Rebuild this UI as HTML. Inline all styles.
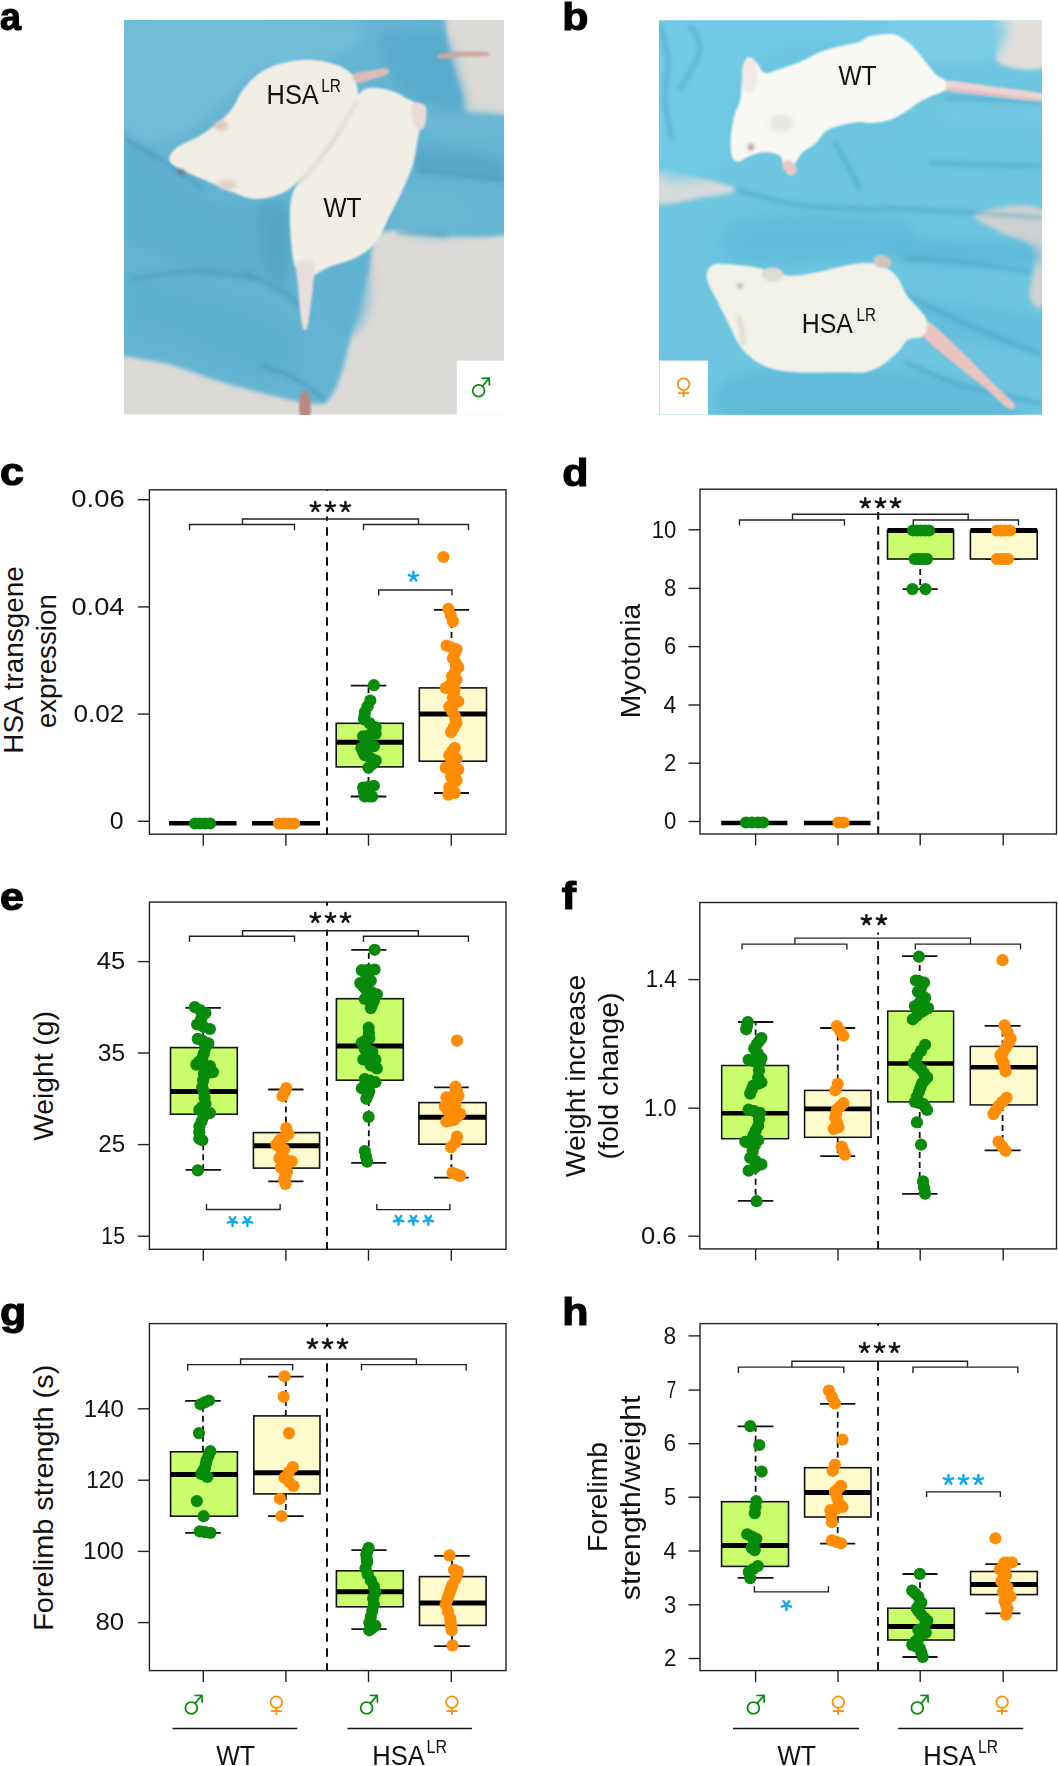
<!DOCTYPE html>
<html><head><meta charset="utf-8"><style>
html,body{margin:0;padding:0;background:#fff;}
body{width:1058px;height:1766px;overflow:hidden;}
svg{display:block;font-family:"Liberation Sans",sans-serif;}
</style></head><body>
<svg width="1058" height="1766" viewBox="0 0 1058 1766">
<defs>
<clipPath id="clipA"><rect x="124" y="20" width="380" height="394.6"/></clipPath>
<clipPath id="clipB"><rect x="659" y="20.5" width="383" height="394.2"/></clipPath>
<filter id="blur1" x="-10%" y="-10%" width="120%" height="120%"><feGaussianBlur stdDeviation="1.1"/></filter>
<filter id="blur2" x="-10%" y="-10%" width="120%" height="120%"><feGaussianBlur stdDeviation="2"/></filter>
<filter id="blur3" x="-10%" y="-10%" width="120%" height="120%"><feGaussianBlur stdDeviation="3"/></filter>
<filter id="blur4" x="-20%" y="-20%" width="140%" height="140%"><feGaussianBlur stdDeviation="6"/></filter>
</defs>
<g clip-path="url(#clipA)"><rect x="124" y="20" width="380" height="395" fill="#dcdad7"/><g filter="url(#blur2)"><path d="M88.1,-15.9 C146.2,-75.8 376.9,-21.9 436.5,-15.9 C496.1,-9.9 443.7,10.4 445.5,20.0 C447.3,29.6 446.4,35.0 447.3,41.6 C448.2,48.1 449.4,53.5 450.9,59.5 C452.4,65.5 454.5,71.5 456.3,77.5 C458.1,83.5 460.1,89.7 461.6,95.4 C463.1,101.1 461.6,108.5 465.2,111.6 C468.8,114.7 476.7,113.5 483.2,114.1 C489.7,114.7 494.5,114.7 504.0,115.2 C513.6,115.7 534.6,96.9 540.7,117.0 C546.8,137.0 546.8,215.8 540.7,235.5 C534.6,255.3 513.6,235.2 504.0,235.5 C494.5,235.8 492.7,237.3 483.2,237.3 C473.7,237.3 458.1,236.4 447.3,235.5 C436.5,234.6 426.9,232.8 418.5,231.9 C410.2,231.0 404.2,229.5 397.0,230.1 C389.8,230.7 379.6,232.2 375.4,235.5 C371.2,238.8 373.0,243.9 371.8,249.9 C370.6,255.9 370.0,263.1 368.3,271.4 C366.5,279.8 363.5,291.2 361.1,300.2 C358.7,309.2 356.3,316.3 353.9,325.3 C351.5,334.3 349.1,345.1 346.7,354.1 C344.3,363.0 342.2,372.0 339.5,379.2 C336.8,386.4 333.8,393.0 330.5,397.2 C327.2,401.3 324.9,403.2 319.8,404.0 C314.7,404.8 308.3,403.3 300.0,401.8 C291.7,400.3 283.5,398.5 269.8,395.0 C256.2,391.5 234.8,386.0 218.1,381.0 C201.5,376.0 185.7,369.0 170.0,364.8 C154.3,360.6 137.6,359.4 124.0,355.8 C110.4,352.3 94.1,405.2 88.1,343.3 C82.1,281.3 30.0,43.9 88.1,-15.9 Z" fill="#65b5d2"/></g><g filter="url(#blur4)"><path d="M124.0,20.0 C159.9,2.0 300.6,16.4 339.5,20.0 C378.4,23.6 359.9,35.0 357.5,41.6 C355.1,48.1 341.3,54.7 325.1,59.5 C309.0,64.3 279.1,61.9 260.5,70.3 C241.9,78.7 228.8,98.4 213.8,109.8 C198.8,121.2 185.7,135.5 170.7,138.5 C155.7,141.5 131.8,147.5 124.0,127.8 C116.2,108.0 88.1,38.0 124.0,20.0 Z" fill="#74c0da" opacity="0.85"/><path d="M124.0,138.5 C131.2,127.8 155.1,161.9 167.1,170.9 C179.1,179.8 185.1,186.4 195.8,192.4 C206.6,198.4 218.6,204.4 231.8,206.8 C244.9,209.2 265.3,202.0 274.9,206.8 C284.4,211.6 288.6,224.7 289.2,235.5 C289.8,246.3 286.2,264.3 278.5,271.4 C270.7,278.6 256.3,278.6 242.5,278.6 C228.8,278.6 210.8,276.2 195.8,271.4 C180.9,266.6 164.7,255.9 152.7,249.9 C140.8,243.9 128.8,254.1 124.0,235.5 C119.2,217.0 116.8,149.3 124.0,138.5 Z" fill="#58aac9" opacity="0.5"/><path d="M124.0,271.4 C133.0,263.1 159.9,275.0 177.9,278.6 C195.8,282.2 215.6,288.2 231.8,293.0 C247.9,297.8 262.9,300.2 274.9,307.4 C286.8,314.5 300.0,325.3 303.6,336.1 C307.2,346.9 303.6,364.8 296.4,372.0 C289.2,379.2 274.3,380.4 260.5,379.2 C246.7,378.0 229.4,370.8 213.8,364.8 C198.2,358.8 182.1,349.3 167.1,343.3 C152.1,337.3 131.2,340.9 124.0,328.9 C116.8,316.9 115.0,279.8 124.0,271.4 Z" fill="#5eb0cf" opacity="0.8"/><path d="M260.5,206.8 C264.1,196.0 283.8,199.6 289.2,206.8 C294.6,214.0 294.0,235.5 292.8,249.9 C291.6,264.3 286.2,289.4 282.0,293.0 C277.9,296.6 271.3,285.8 267.7,271.4 C264.1,257.1 256.9,217.6 260.5,206.8 Z" fill="#4a98b8" opacity="0.45"/><path d="M382.6,34.4 C391.0,28.4 427.5,27.8 440.1,34.4 C452.7,41.0 453.9,61.3 458.1,73.9 C462.2,86.5 467.0,102.6 465.2,109.8 C463.4,117.0 456.3,118.8 447.3,117.0 C438.3,115.2 420.9,106.8 411.4,99.0 C401.8,91.2 394.6,81.1 389.8,70.3 C385.0,59.5 374.2,40.4 382.6,34.4 Z" fill="#56a9ca" opacity="0.8"/><path d="M425.7,109.8 C438.8,108.0 491.0,112.2 504.0,117.0 C517.1,121.8 513.5,134.9 504.0,138.5 C494.6,142.1 460.3,140.3 447.3,138.5 C434.2,136.7 429.3,132.5 425.7,127.8 C422.1,123.0 412.7,111.6 425.7,109.8 Z" fill="#6dbad6" opacity="0.7"/><path d="M418.5,149.3 C429.3,146.9 468.9,154.1 483.2,156.5 C497.4,158.9 500.6,160.1 504.0,163.7 C507.5,167.3 509.9,176.3 504.0,178.0 C498.2,179.8 483.1,175.7 468.8,174.5 C454.6,173.3 426.9,175.1 418.5,170.9 C410.2,166.7 407.8,151.7 418.5,149.3 Z" fill="#4d9ec0" opacity="0.6"/><path d="M397.0,185.2 C407.8,179.2 452.1,186.4 465.2,192.4 C478.4,198.4 479.0,214.0 476.0,221.1 C473.0,228.3 459.8,234.3 447.3,235.5 C434.7,236.7 409.0,236.7 400.6,228.3 C392.2,220.0 386.2,191.2 397.0,185.2 Z" fill="#69b9d5" opacity="0.8"/><path d="M318.0,257.1 C324.0,243.9 352.7,243.9 361.1,249.9 C369.5,255.9 368.9,279.8 368.3,293.0 C367.7,306.2 364.7,322.9 357.5,328.9 C350.3,334.9 331.7,340.9 325.1,328.9 C318.6,316.9 312.0,270.2 318.0,257.1 Z" fill="#60b2d1" opacity="0.8"/></g><g filter="url(#blur2)"><path d="M124.0,138.5 C131.2,142.7 153.9,155.3 167.1,163.7 C180.3,172.1 197.0,184.6 203.0,188.8" stroke="#3d8fb3" stroke-width="3" fill="none" opacity="0.6"/><path d="M242.5,271.4 C249.7,275.0 274.3,285.2 285.6,293.0 C297.0,300.8 306.6,313.9 310.8,318.1" stroke="#3d8fb3" stroke-width="3" fill="none" opacity="0.6"/><path d="M131.2,278.6 C142.0,277.4 175.5,271.4 195.8,271.4 C216.2,271.4 243.7,277.4 253.3,278.6" stroke="#3d8fb3" stroke-width="3" fill="none" opacity="0.6"/><path d="M260.5,364.8 C266.5,367.2 285.6,373.2 296.4,379.2 C307.2,385.2 320.4,397.2 325.1,400.7" stroke="#3d8fb3" stroke-width="3" fill="none" opacity="0.6"/><path d="M418.5,170.9 C426.3,171.5 451.0,173.0 465.2,174.5 C479.5,176.0 497.6,178.9 504.0,179.8" stroke="#3d8fb3" stroke-width="3" fill="none" opacity="0.6"/><path d="M397.0,231.9 C405.4,232.5 438.9,234.9 447.3,235.5" stroke="#3d8fb3" stroke-width="3" fill="none" opacity="0.6"/></g><g filter="url(#blur1)"><path d="M169.2,157.9 C169.6,154.7 172.4,150.6 177.4,146.9 C182.4,143.2 192.5,140.0 199.3,135.9 C206.2,131.8 213.0,126.8 218.5,122.2 C224.0,117.6 228.1,114.0 232.2,108.5 C236.3,103.0 238.6,95.2 243.2,89.3 C247.8,83.4 253.2,77.2 259.6,72.9 C266.0,68.6 273.4,65.5 281.6,63.3 C289.8,61.1 299.9,59.5 309.0,59.7 C318.1,59.9 329.1,62.1 336.4,64.7 C343.7,67.3 349.2,70.6 352.9,75.6 C356.5,80.6 357.9,88.8 358.3,94.8 C358.8,100.8 358.3,105.3 355.6,111.3 C352.9,117.2 346.9,123.7 341.9,130.5 C336.9,137.3 331.8,144.6 325.4,152.4 C319.0,160.2 310.8,170.2 303.5,177.1 C296.2,183.9 289.8,189.8 281.6,193.5 C273.4,197.2 262.4,199.2 254.2,199.0 C246.0,198.8 239.5,194.8 232.2,192.1 C224.9,189.3 217.2,185.5 210.3,182.5 C203.5,179.5 197.0,177.0 191.1,174.3 C185.2,171.6 178.3,168.8 174.7,166.1 C171.0,163.4 168.8,161.1 169.2,157.9 Z" fill="#f0ede4"/><path d="M353.9,73.9 C356.3,71.8 366.5,71.2 371.8,70.3 C377.2,69.4 383.5,67.9 386.2,68.5 C388.9,69.1 390.4,72.1 388.0,73.9 C385.6,75.7 376.9,77.8 371.8,79.3 C366.8,80.8 360.5,83.8 357.5,82.9 C354.5,82.0 351.5,76.0 353.9,73.9 Z" fill="#dcbcb6"/><path d="M440.1,54.1 C443.7,52.9 453.9,51.9 461.6,51.6 C469.4,51.3 482.6,51.6 486.8,52.3 C491.0,53.0 491.0,55.2 486.8,55.9 C482.6,56.6 469.4,56.2 461.6,56.6 C453.9,57.1 443.7,59.2 440.1,58.8 C436.5,58.4 436.5,55.3 440.1,54.1 Z" fill="#cfa7a2"/><path d="M358.3,94.8 C361.2,91.1 363.8,88.7 369.3,88.0 C374.8,87.3 384.4,88.7 391.2,90.7 C398.0,92.8 404.9,97.3 410.4,100.3 C415.9,103.3 422.3,104.8 424.1,108.5 C425.9,112.2 422.5,116.7 421.4,122.2 C420.3,127.7 418.7,134.5 417.3,141.4 C415.9,148.3 415.7,155.2 413.2,163.4 C410.7,171.6 406.3,181.7 402.2,190.8 C398.1,199.9 392.6,210.0 388.5,218.2 C384.4,226.4 382.5,233.7 377.5,240.1 C372.5,246.5 366.5,252.0 358.3,256.6 C350.1,261.2 336.9,263.9 328.2,267.5 C319.5,271.1 311.7,278.5 306.2,278.5 C300.7,278.5 297.8,273.4 295.3,267.5 C292.8,261.6 292.1,251.6 291.2,242.9 C290.3,234.2 289.6,223.6 289.8,215.4 C290.0,207.2 290.2,199.9 292.5,193.5 C294.8,187.1 298.0,183.9 303.5,177.1 C309.0,170.2 319.0,160.2 325.4,152.4 C331.8,144.6 337.5,137.6 341.9,130.5 C346.3,123.4 349.3,116.0 352.0,110.0 C354.7,104.0 355.4,98.5 358.3,94.8 Z" fill="#f1eee6"/><path d="M297.0,262.0 C299.7,258.2 311.3,258.2 314.0,262.0 C316.7,265.8 313.7,276.7 313.0,285.0 C312.3,293.3 311.0,304.8 310.0,312.0 C309.0,319.2 308.2,325.3 307.0,328.0 C305.8,330.7 304.2,331.0 303.0,328.0 C301.8,325.0 300.8,317.2 300.0,310.0 C299.2,302.8 298.5,293.0 298.0,285.0 C297.5,277.0 294.3,265.8 297.0,262.0 Z" fill="#e8dedb"/><path d="M300.7,393.6 C302.2,390.0 307.4,390.0 309.0,393.6 C310.5,397.2 311.6,411.5 310.1,415.1 C308.6,418.7 301.6,418.7 300.0,415.1 C298.4,411.5 299.2,397.2 300.7,393.6 Z" fill="#b88a86"/><path d="M411.4,104.4 C413.2,101.1 423.6,102.3 425.7,106.2 C427.8,110.1 425.7,124.5 423.9,127.8 C422.1,131.1 417.0,129.9 414.9,126.0 C412.9,122.1 409.6,107.7 411.4,104.4 Z" fill="#ebd9d5"/></g><g filter="url(#blur2)"><ellipse cx="221" cy="126" rx="7" ry="5" fill="#d9c6bb"/><ellipse cx="227" cy="185" rx="10" ry="5" fill="#dac8bd" opacity="0.8"/><ellipse cx="181" cy="172" rx="4" ry="2.5" fill="#7a7068"/><path d="M300,183 Q330,150 358,100" stroke="#cfcdc2" stroke-width="3" fill="none" opacity="0.7"/></g></g>
<g clip-path="url(#clipB)"><rect x="659" y="20.5" width="383" height="394.5" fill="#6dc5df"/><g filter="url(#blur2)"><path d="M999.0,18.0 C1007.2,14.3 1037.3,10.0 1045.0,18.0 C1052.7,26.0 1052.5,58.3 1045.0,66.0 C1037.5,73.7 1008.2,68.3 1000.0,64.0 C991.8,59.7 996.2,47.7 996.0,40.0 C995.8,32.3 990.8,21.7 999.0,18.0 Z" fill="#e2dfdb"/><path d="M655.0,171.0 C662.5,166.8 686.5,174.8 700.0,178.0 C713.5,181.2 736.0,186.7 736.0,190.0 C736.0,193.3 713.5,195.8 700.0,198.0 C686.5,200.2 662.5,207.5 655.0,203.0 C647.5,198.5 647.5,175.2 655.0,171.0 Z" fill="#d6dadb"/><path d="M975.0,214.0 C982.5,210.7 1033.3,197.7 1045.0,212.0 C1056.7,226.3 1047.5,285.7 1045.0,300.0 C1042.5,314.3 1032.0,306.3 1030.0,298.0 C1028.0,289.7 1038.0,261.0 1033.0,250.0 C1028.0,239.0 1009.7,238.0 1000.0,232.0 C990.3,226.0 967.5,217.3 975.0,214.0 Z" fill="#cfd2d2"/></g><g filter="url(#blur4)"><path d="M655.0,18.0 C692.5,-7.0 839.2,11.0 880.0,18.0 C920.8,25.0 910.0,56.3 900.0,60.0 C890.0,63.7 843.3,40.0 820.0,40.0 C796.7,40.0 775.0,48.3 760.0,60.0 C745.0,71.7 735.8,92.5 730.0,110.0 C724.2,127.5 737.5,155.3 725.0,165.0 C712.5,174.7 666.7,192.5 655.0,168.0 C643.3,143.5 617.5,43.0 655.0,18.0 Z" fill="#72cae4" opacity="0.8"/><path d="M890.0,18.0 C905.5,13.0 979.7,12.7 998.0,18.0 C1016.3,23.3 1002.2,42.7 1000.0,50.0 C997.8,57.3 995.0,59.7 985.0,62.0 C975.0,64.3 953.3,66.3 940.0,64.0 C926.7,61.7 913.3,55.7 905.0,48.0 C896.7,40.3 874.5,23.0 890.0,18.0 Z" fill="#7ccde5" opacity="0.9"/><path d="M950.0,100.0 C965.8,95.8 1029.2,95.8 1045.0,100.0 C1060.8,104.2 1060.8,120.8 1045.0,125.0 C1029.2,129.2 965.8,129.2 950.0,125.0 C934.2,120.8 934.2,104.2 950.0,100.0 Z" fill="#74c8e2" opacity="0.7"/><path d="M900.0,130.0 C924.2,125.0 1020.8,125.0 1045.0,130.0 C1069.2,135.0 1069.2,155.0 1045.0,160.0 C1020.8,165.0 924.2,165.0 900.0,160.0 C875.8,155.0 875.8,135.0 900.0,130.0 Z" fill="#6cc4e0" opacity="0.7"/><path d="M900.0,240.0 C920.8,237.2 1008.0,240.8 1030.0,245.0 C1052.0,249.2 1052.8,262.2 1032.0,265.0 C1011.2,267.8 927.0,266.2 905.0,262.0 C883.0,257.8 879.2,242.8 900.0,240.0 Z" fill="#5ab6d6" opacity="0.7"/><path d="M910.0,300.0 C931.7,298.3 1022.5,311.7 1045.0,320.0 C1067.5,328.3 1066.7,348.3 1045.0,350.0 C1023.3,351.7 937.5,338.3 915.0,330.0 C892.5,321.7 888.3,301.7 910.0,300.0 Z" fill="#5eb8d8" opacity="0.6"/><path d="M740.0,375.0 C766.7,367.0 856.7,367.8 900.0,372.0 C943.3,376.2 983.3,392.0 1000.0,400.0 C1016.7,408.0 1043.3,416.7 1000.0,420.0 C956.7,423.3 783.3,427.5 740.0,420.0 C696.7,412.5 713.3,383.0 740.0,375.0 Z" fill="#58b4d4" opacity="0.6"/><path d="M740.0,220.0 C766.7,213.0 875.0,214.2 900.0,220.0 C925.0,225.8 916.7,248.0 890.0,255.0 C863.3,262.0 765.0,267.8 740.0,262.0 C715.0,256.2 713.3,227.0 740.0,220.0 Z" fill="#5ab8d8" opacity="0.6"/></g><g filter="url(#blur2)"><path d="M905.0,258.0 C914.2,258.7 939.0,259.7 960.0,262.0 C981.0,264.3 1019.2,270.3 1031.0,272.0" stroke="#3a94b8" stroke-width="3.2" fill="none" opacity="0.5"/><path d="M905.0,295.0 C917.5,300.8 957.2,320.0 980.0,330.0 C1002.8,340.0 1031.7,350.8 1042.0,355.0" stroke="#3a94b8" stroke-width="3.2" fill="none" opacity="0.5"/><path d="M904.0,362.0 C913.3,365.8 943.5,379.5 960.0,385.0 C976.5,390.5 989.3,391.8 1003.0,395.0 C1016.7,398.2 1035.5,402.5 1042.0,404.0" stroke="#3a94b8" stroke-width="3.2" fill="none" opacity="0.5"/><path d="M945.0,98.0 C954.2,98.3 983.8,99.3 1000.0,100.0 C1016.2,100.7 1035.0,101.7 1042.0,102.0" stroke="#3a94b8" stroke-width="3.2" fill="none" opacity="0.5"/><path d="M930.0,163.0 C940.0,163.3 971.3,164.5 990.0,165.0 C1008.7,165.5 1033.3,165.8 1042.0,166.0" stroke="#3a94b8" stroke-width="3.2" fill="none" opacity="0.5"/><path d="M880.0,208.0 C893.3,208.7 933.0,210.3 960.0,212.0 C987.0,213.7 1028.3,217.0 1042.0,218.0" stroke="#3a94b8" stroke-width="3.2" fill="none" opacity="0.5"/><path d="M660.0,25.0 C661.3,30.8 667.2,47.5 668.0,60.0 C668.8,72.5 664.3,86.7 665.0,100.0 C665.7,113.3 670.8,133.3 672.0,140.0" stroke="#3a94b8" stroke-width="3.2" fill="none" opacity="0.5"/><path d="M690.0,25.0 C691.7,29.2 701.7,39.2 700.0,50.0 C698.3,60.8 683.3,83.3 680.0,90.0" stroke="#3a94b8" stroke-width="3.2" fill="none" opacity="0.5"/><path d="M835.0,142.0 C837.5,146.7 845.8,162.0 850.0,170.0 C854.2,178.0 858.3,186.7 860.0,190.0" stroke="#3a94b8" stroke-width="3.2" fill="none" opacity="0.5"/><path d="M736.0,190.0 C746.7,192.5 776.0,201.7 800.0,205.0 C824.0,208.3 866.7,209.2 880.0,210.0" stroke="#3a94b8" stroke-width="3.2" fill="none" opacity="0.5"/></g><g filter="url(#blur1)"><path d="M945.0,80.5 C952.5,79.8 973.8,83.8 990.0,86.0 C1006.2,88.2 1033.3,91.2 1042.0,93.7 C1050.7,96.2 1050.7,100.9 1042.0,101.3 C1033.3,101.7 1006.2,97.9 990.0,96.0 C973.8,94.1 952.5,92.6 945.0,90.0 C937.5,87.4 937.5,81.2 945.0,80.5 Z" fill="#ecd2d2"/><path d="M946,89 Q995,95 1042,100.5" stroke="#e0b4b8" stroke-width="2" fill="none"/><path d="M746.0,59.7 C747.2,56.6 747.8,57.2 749.7,57.8 C751.6,58.4 754.8,61.0 757.3,63.5 C759.8,66.0 761.1,72.0 764.9,72.9 C768.7,73.8 774.0,71.0 780.0,69.1 C786.0,67.2 794.2,64.4 800.8,61.6 C807.4,58.8 813.4,54.6 819.7,52.1 C826.0,49.6 832.1,48.2 838.6,46.5 C845.1,44.8 853.7,43.7 859.0,42.0 C864.3,40.3 864.7,37.4 870.4,36.1 C876.1,34.8 887.0,33.4 893.0,34.2 C899.0,35.0 902.2,37.8 906.3,40.8 C910.4,43.8 914.1,48.3 917.6,52.1 C921.1,55.9 923.9,59.7 927.0,63.5 C930.1,67.3 933.5,72.0 936.5,74.8 C939.5,77.6 943.6,78.0 945.0,80.5 C946.4,83.0 947.0,87.5 945.0,90.0 C943.0,92.5 937.3,93.4 932.7,95.6 C928.1,97.8 922.3,100.4 917.6,103.2 C912.9,106.0 909.1,109.8 904.4,112.6 C899.7,115.4 895.0,118.5 889.3,120.2 C883.6,121.9 875.4,122.7 870.4,123.0 C865.4,123.3 864.3,121.5 859.0,122.0 C853.7,122.5 844.2,124.3 838.6,125.9 C833.0,127.5 829.2,128.7 825.4,131.5 C821.6,134.3 819.7,139.4 815.9,142.9 C812.1,146.4 806.2,148.8 802.7,152.3 C799.2,155.8 797.3,160.2 795.1,163.7 C792.9,167.2 791.3,172.5 789.4,173.1 C787.5,173.7 785.4,170.2 783.8,167.4 C782.2,164.6 783.1,158.6 780.0,156.1 C776.9,153.6 769.9,152.3 764.9,152.3 C759.9,152.3 754.1,154.5 749.7,156.1 C745.3,157.7 741.4,161.8 738.4,161.8 C735.4,161.8 733.1,160.2 731.8,156.1 C730.5,152.0 730.3,144.1 730.8,137.2 C731.3,130.3 733.0,120.8 734.6,114.5 C736.2,108.2 739.0,105.7 740.3,99.4 C741.6,93.1 741.2,83.3 742.2,76.7 C743.2,70.1 744.8,62.9 746.0,59.7 Z" fill="#f8f8f4"/><path d="M744.0,62.0 C745.3,58.8 748.0,56.8 750.0,57.0 C752.0,57.2 754.8,59.2 756.0,63.0 C757.2,66.8 757.7,75.2 757.0,80.0 C756.3,84.8 754.0,90.3 752.0,92.0 C750.0,93.7 746.7,92.7 745.0,90.0 C743.3,87.3 742.2,80.7 742.0,76.0 C741.8,71.3 742.7,65.2 744.0,62.0 Z" fill="#f2e8e6"/><path d="M927.0,320.9 C933.1,323.2 949.5,340.1 960.0,350.0 C970.5,359.9 981.0,371.0 990.0,380.0 C999.0,389.0 1011.0,399.3 1014.0,404.0 C1017.0,408.7 1012.8,410.7 1008.0,408.0 C1003.2,405.3 994.7,396.0 985.0,388.0 C975.3,380.0 960.3,368.7 950.0,360.0 C939.7,351.3 927.1,342.5 923.3,336.0 C919.5,329.5 920.9,318.6 927.0,320.9 Z" fill="#eac4be"/><path d="M707.2,271.7 C708.5,268.6 710.5,265.2 715.7,264.1 C720.9,263.0 730.5,264.3 738.4,265.1 C746.3,265.9 754.5,267.2 763.0,268.9 C771.5,270.6 779.9,275.0 789.4,275.5 C798.9,276.0 811.5,273.1 819.7,271.7 C827.9,270.3 831.7,268.4 838.6,267.0 C845.5,265.6 854.7,263.7 860.9,263.2 C867.1,262.7 871.3,263.0 876.0,264.1 C880.7,265.2 885.5,267.3 889.3,269.8 C893.1,272.3 895.9,275.2 898.7,279.3 C901.5,283.4 903.1,289.7 906.3,294.4 C909.4,299.1 914.1,303.2 917.6,307.6 C921.1,312.0 926.0,316.2 927.0,320.9 C928.0,325.6 926.4,332.9 923.3,336.0 C920.2,339.1 912.3,337.3 908.2,339.8 C904.1,342.3 902.8,347.0 898.7,351.1 C894.6,355.2 889.0,360.8 883.6,364.3 C878.2,367.8 873.5,370.5 866.6,371.9 C859.7,373.3 854.5,372.5 842.0,372.5 C829.5,372.5 804.1,373.1 791.3,372.0 C778.4,370.9 772.1,369.1 764.9,366.2 C757.6,363.3 752.2,358.7 747.8,354.9 C743.4,351.1 741.2,347.9 738.4,343.5 C735.6,339.1 733.6,334.1 730.8,328.4 C728.0,322.7 724.2,315.2 721.4,309.5 C718.6,303.8 716.0,298.8 713.8,294.4 C711.6,290.0 709.2,286.8 708.1,283.0 C707.0,279.2 705.9,274.8 707.2,271.7 Z" fill="#f1f1e9"/><ellipse cx="772.4" cy="274.5" rx="11" ry="7" fill="#dedcd2"/><path d="M874.0,258.0 C875.3,256.2 881.0,254.2 884.0,255.0 C887.0,255.8 891.7,260.8 892.0,263.0 C892.3,265.2 888.7,267.5 886.0,268.0 C883.3,268.5 878.0,267.7 876.0,266.0 C874.0,264.3 872.7,259.8 874.0,258.0 Z" fill="#d4c4be"/><path d="M782.0,165.0 C782.0,162.3 787.5,159.2 790.0,160.0 C792.5,160.8 797.0,167.3 797.0,170.0 C797.0,172.7 792.5,176.8 790.0,176.0 C787.5,175.2 782.0,167.7 782.0,165.0 Z" fill="#e8c8c4"/></g><g filter="url(#blur2)"><circle cx="751" cy="147" r="2.6" fill="#8a5a5e"/><ellipse cx="781" cy="123" rx="12" ry="9" fill="#e6e6e2"/><circle cx="740" cy="286" r="2" fill="#6a6a6a"/><path d="M738,315 Q745,335 742,345" stroke="#d0ccc4" stroke-width="3" fill="none"/></g></g>
<rect x="456.8" y="360.6" width="47.2" height="54" fill="#fff"/>
<g stroke="#088a0a" stroke-width="1.75" fill="none"><circle cx="478.6" cy="390.8" r="5.9"/><path d="M482.4,386.3 L489.2,378.2 M481.6,378.4 L489.2,378.2 L489.5,385.6"/></g>
<rect x="659.5" y="360.6" width="48.5" height="54" fill="#fff"/>
<g stroke="#ff8c05" stroke-width="1.75" fill="none"><circle cx="683.6" cy="384.2" r="5.8"/><path d="M683.6,390.0 V397.1 M678.0,393.2 H689.2"/></g>
<text x="266.6" y="103.8" font-size="27.5" text-anchor="start" fill="#111" font-weight="normal" textLength="52.2" lengthAdjust="spacingAndGlyphs" >HSA</text>
<text x="321.3" y="92.1" font-size="17.5" text-anchor="start" fill="#111" font-weight="normal" textLength="19.6" lengthAdjust="spacingAndGlyphs" >LR</text>
<text x="323.5" y="216.8" font-size="27.5" text-anchor="start" fill="#111" font-weight="normal" textLength="38.1" lengthAdjust="spacingAndGlyphs" >WT</text>
<text x="838.4" y="84.6" font-size="27.5" text-anchor="start" fill="#111" font-weight="normal" textLength="38.2" lengthAdjust="spacingAndGlyphs" >WT</text>
<text x="801.8" y="333.1" font-size="27.5" text-anchor="start" fill="#111" font-weight="normal" textLength="51.1" lengthAdjust="spacingAndGlyphs" >HSA</text>
<text x="856.6" y="320.6" font-size="17.5" text-anchor="start" fill="#111" font-weight="normal" textLength="19.4" lengthAdjust="spacingAndGlyphs" >LR</text>
<rect x="149.4" y="489.8" width="356.6" height="344.40000000000003" fill="none" stroke="#222" stroke-width="1.4"/>
<line x1="137.9" y1="821.3" x2="149.4" y2="821.3" stroke="#222" stroke-width="1.4" />
<text x="123.6" y="829.0" font-size="23.5" text-anchor="end" fill="#111" textLength="13.8" lengthAdjust="spacingAndGlyphs">0</text>
<line x1="137.9" y1="714.1" x2="149.4" y2="714.1" stroke="#222" stroke-width="1.4" />
<text x="124.4" y="721.8" font-size="23.5" text-anchor="end" fill="#111" textLength="50.9" lengthAdjust="spacingAndGlyphs">0.02</text>
<line x1="137.9" y1="606.9" x2="149.4" y2="606.9" stroke="#222" stroke-width="1.4" />
<text x="124.4" y="614.6" font-size="23.5" text-anchor="end" fill="#111" textLength="52.9" lengthAdjust="spacingAndGlyphs">0.04</text>
<line x1="137.9" y1="499.7" x2="149.4" y2="499.7" stroke="#222" stroke-width="1.4" />
<text x="124.7" y="507.4" font-size="23.5" text-anchor="end" fill="#111" textLength="53.4" lengthAdjust="spacingAndGlyphs">0.06</text>
<line x1="203.3" y1="834.2" x2="203.3" y2="845.7" stroke="#222" stroke-width="1.4" />
<line x1="285.9" y1="834.2" x2="285.9" y2="845.7" stroke="#222" stroke-width="1.4" />
<line x1="368.5" y1="834.2" x2="368.5" y2="845.7" stroke="#222" stroke-width="1.4" />
<line x1="451.3" y1="834.2" x2="451.3" y2="845.7" stroke="#222" stroke-width="1.4" />
<line x1="327.0" y1="489.8" x2="327.0" y2="834.2" stroke="#111" stroke-width="2.0" stroke-dasharray="8.6 6.4" stroke-dashoffset="7.65"/>
<path d="M189.5,530.3 V524.5 H294.5 V530.3" fill="none" stroke="#222" stroke-width="1.4"/>
<path d="M363.5,530.3 V524.5 H468.5 V530.3" fill="none" stroke="#222" stroke-width="1.4"/>
<path d="M242.5,524.5 V519.0 H418.5 V524.5" fill="none" stroke="#222" stroke-width="1.4"/>
<rect x="300" y="493" width="60" height="23.5" fill="#fff"/>
<path d="M315.30,506.90 L315.30,502.00 M315.30,506.90 L319.96,505.39 M315.30,506.90 L318.18,510.86 M315.30,506.90 L312.42,510.86 M315.30,506.90 L310.64,505.39 " stroke="#111" stroke-width="2.4" stroke-linecap="round" fill="none"/>
<path d="M330.30,506.90 L330.30,502.00 M330.30,506.90 L334.96,505.39 M330.30,506.90 L333.18,510.86 M330.30,506.90 L327.42,510.86 M330.30,506.90 L325.64,505.39 " stroke="#111" stroke-width="2.4" stroke-linecap="round" fill="none"/>
<path d="M345.40,506.90 L345.40,502.00 M345.40,506.90 L350.06,505.39 M345.40,506.90 L348.28,510.86 M345.40,506.90 L342.52,510.86 M345.40,506.90 L340.74,505.39 " stroke="#111" stroke-width="2.4" stroke-linecap="round" fill="none"/>
<line x1="169.0" y1="823.3" x2="236.5" y2="823.3" stroke="#000" stroke-width="4.6" />
<line x1="252.0" y1="823.3" x2="320.0" y2="823.3" stroke="#000" stroke-width="4.6" />
<line x1="368.5" y1="723.3" x2="368.5" y2="685.7" stroke="#111" stroke-width="1.8" stroke-dasharray="6 4"/>
<line x1="368.5" y1="766.9" x2="368.5" y2="796.5" stroke="#111" stroke-width="1.8" stroke-dasharray="6 4"/>
<line x1="350.7" y1="685.7" x2="386.3" y2="685.7" stroke="#111" stroke-width="1.8" />
<line x1="350.7" y1="796.5" x2="386.3" y2="796.5" stroke="#111" stroke-width="1.8" />
<rect x="336.2" y="723.3" width="67.0" height="43.6" fill="#cafd6c" stroke="#111" stroke-width="1.6"/>
<line x1="336.2" y1="742.3" x2="403.2" y2="742.3" stroke="#000" stroke-width="5.0" />
<line x1="451.5" y1="687.9" x2="451.5" y2="609.8" stroke="#111" stroke-width="1.8" stroke-dasharray="6 4"/>
<line x1="451.5" y1="761.2" x2="451.5" y2="793.0" stroke="#111" stroke-width="1.8" stroke-dasharray="6 4"/>
<line x1="434.0" y1="609.8" x2="469.0" y2="609.8" stroke="#111" stroke-width="1.8" />
<line x1="434.0" y1="793.0" x2="469.0" y2="793.0" stroke="#111" stroke-width="1.8" />
<rect x="419.3" y="687.9" width="67.2" height="73.3" fill="#fffacd" stroke="#111" stroke-width="1.6"/>
<line x1="419.3" y1="713.9" x2="486.5" y2="713.9" stroke="#000" stroke-width="5.0" />
<path d="M378.7,595.6 V590.0 H452.0 V595.6" fill="none" stroke="#222" stroke-width="1.4"/>
<path d="M413.40,576.60 L413.40,571.70 M413.40,576.60 L418.06,575.09 M413.40,576.60 L416.28,580.56 M413.40,576.60 L410.52,580.56 M413.40,576.60 L408.74,575.09 " stroke="#0da9ea" stroke-width="2.4" stroke-linecap="round" fill="none"/>
<rect x="700" y="489.2" width="356.5" height="344.8" fill="none" stroke="#222" stroke-width="1.4"/>
<line x1="688.5" y1="821.5" x2="700.0" y2="821.5" stroke="#222" stroke-width="1.4" />
<text x="676.2" y="829.2" font-size="23.5" text-anchor="end" fill="#111" textLength="12.3" lengthAdjust="spacingAndGlyphs">0</text>
<line x1="688.5" y1="763.2" x2="700.0" y2="763.2" stroke="#222" stroke-width="1.4" />
<text x="676.2" y="770.9" font-size="23.5" text-anchor="end" fill="#111" textLength="12.3" lengthAdjust="spacingAndGlyphs">2</text>
<line x1="688.5" y1="705.0" x2="700.0" y2="705.0" stroke="#222" stroke-width="1.4" />
<text x="676.2" y="712.7" font-size="23.5" text-anchor="end" fill="#111" textLength="12.8" lengthAdjust="spacingAndGlyphs">4</text>
<line x1="688.5" y1="646.6" x2="700.0" y2="646.6" stroke="#222" stroke-width="1.4" />
<text x="676.2" y="654.3" font-size="23.5" text-anchor="end" fill="#111" textLength="12.3" lengthAdjust="spacingAndGlyphs">6</text>
<line x1="688.5" y1="588.4" x2="700.0" y2="588.4" stroke="#222" stroke-width="1.4" />
<text x="676.2" y="596.1" font-size="23.5" text-anchor="end" fill="#111" textLength="12.3" lengthAdjust="spacingAndGlyphs">8</text>
<line x1="688.5" y1="529.8" x2="700.0" y2="529.8" stroke="#222" stroke-width="1.4" />
<text x="676.3" y="537.5" font-size="23.5" text-anchor="end" fill="#111" textLength="24.5" lengthAdjust="spacingAndGlyphs">10</text>
<line x1="755.6" y1="834.0" x2="755.6" y2="845.5" stroke="#222" stroke-width="1.4" />
<line x1="838.0" y1="834.0" x2="838.0" y2="845.5" stroke="#222" stroke-width="1.4" />
<line x1="920.2" y1="834.0" x2="920.2" y2="845.5" stroke="#222" stroke-width="1.4" />
<line x1="1003.2" y1="834.0" x2="1003.2" y2="845.5" stroke="#222" stroke-width="1.4" />
<line x1="878.2" y1="489.2" x2="878.2" y2="834.0" stroke="#111" stroke-width="2.0" stroke-dasharray="8.6 6.4" stroke-dashoffset="7.95"/>
<path d="M739.5,525.6 V520.0 H844.4 V525.6" fill="none" stroke="#222" stroke-width="1.4"/>
<path d="M913.3,525.6 V520.0 H1018.5 V525.6" fill="none" stroke="#222" stroke-width="1.4"/>
<path d="M792.5,520.0 V514.2 H968.2 V520.0" fill="none" stroke="#222" stroke-width="1.4"/>
<rect x="852" y="492" width="58" height="20" fill="#fff"/>
<path d="M865.30,503.05 L865.30,498.15 M865.30,503.05 L869.96,501.54 M865.30,503.05 L868.18,507.01 M865.30,503.05 L862.42,507.01 M865.30,503.05 L860.64,501.54 " stroke="#111" stroke-width="2.4" stroke-linecap="round" fill="none"/>
<path d="M880.50,503.05 L880.50,498.15 M880.50,503.05 L885.16,501.54 M880.50,503.05 L883.38,507.01 M880.50,503.05 L877.62,507.01 M880.50,503.05 L875.84,501.54 " stroke="#111" stroke-width="2.4" stroke-linecap="round" fill="none"/>
<path d="M895.50,503.05 L895.50,498.15 M895.50,503.05 L900.16,501.54 M895.50,503.05 L898.38,507.01 M895.50,503.05 L892.62,507.01 M895.50,503.05 L890.84,501.54 " stroke="#111" stroke-width="2.4" stroke-linecap="round" fill="none"/>
<line x1="721.2" y1="823.0" x2="787.4" y2="823.0" stroke="#000" stroke-width="4.6" />
<line x1="804.0" y1="823.0" x2="870.5" y2="823.0" stroke="#000" stroke-width="4.6" />
<line x1="920.2" y1="530.5" x2="920.2" y2="530.5" stroke="#111" stroke-width="1.8" stroke-dasharray="6 4"/>
<line x1="920.2" y1="559.0" x2="920.2" y2="589.1" stroke="#111" stroke-width="1.8" stroke-dasharray="6 4"/>
<line x1="902.7" y1="530.5" x2="937.7" y2="530.5" stroke="#111" stroke-width="1.8" />
<line x1="902.7" y1="589.1" x2="937.7" y2="589.1" stroke="#111" stroke-width="1.8" />
<rect x="887.5" y="530.5" width="66.1" height="28.5" fill="#cafd6c" stroke="#111" stroke-width="1.6"/>
<line x1="887.5" y1="530.5" x2="953.6" y2="530.5" stroke="#000" stroke-width="5.0" />
<line x1="1003.2" y1="530.5" x2="1003.2" y2="530.5" stroke="#111" stroke-width="1.8" stroke-dasharray="6 4"/>
<line x1="1003.2" y1="559.0" x2="1003.2" y2="559.0" stroke="#111" stroke-width="1.8" stroke-dasharray="6 4"/>
<line x1="985.7" y1="530.5" x2="1020.7" y2="530.5" stroke="#111" stroke-width="1.8" />
<line x1="985.7" y1="559.0" x2="1020.7" y2="559.0" stroke="#111" stroke-width="1.8" />
<rect x="970.4" y="530.5" width="66.8" height="28.5" fill="#fffacd" stroke="#111" stroke-width="1.6"/>
<line x1="970.4" y1="530.5" x2="1037.2" y2="530.5" stroke="#000" stroke-width="5.0" />
<rect x="149.4" y="902.1" width="356.6" height="347.19999999999993" fill="none" stroke="#222" stroke-width="1.4"/>
<line x1="137.9" y1="1236.2" x2="149.4" y2="1236.2" stroke="#222" stroke-width="1.4" />
<text x="125.0" y="1243.9" font-size="23.5" text-anchor="end" fill="#111" textLength="23.7" lengthAdjust="spacingAndGlyphs">15</text>
<line x1="137.9" y1="1144.6" x2="149.4" y2="1144.6" stroke="#222" stroke-width="1.4" />
<text x="125.1" y="1152.3" font-size="23.5" text-anchor="end" fill="#111" textLength="26.9" lengthAdjust="spacingAndGlyphs">25</text>
<line x1="137.9" y1="1053.0" x2="149.4" y2="1053.0" stroke="#222" stroke-width="1.4" />
<text x="125.1" y="1060.7" font-size="23.5" text-anchor="end" fill="#111" textLength="27.4" lengthAdjust="spacingAndGlyphs">35</text>
<line x1="137.9" y1="961.6" x2="149.4" y2="961.6" stroke="#222" stroke-width="1.4" />
<text x="125.1" y="969.3" font-size="23.5" text-anchor="end" fill="#111" textLength="28.3" lengthAdjust="spacingAndGlyphs">45</text>
<line x1="203.3" y1="1249.3" x2="203.3" y2="1260.8" stroke="#222" stroke-width="1.4" />
<line x1="285.9" y1="1249.3" x2="285.9" y2="1260.8" stroke="#222" stroke-width="1.4" />
<line x1="368.5" y1="1249.3" x2="368.5" y2="1260.8" stroke="#222" stroke-width="1.4" />
<line x1="451.3" y1="1249.3" x2="451.3" y2="1260.8" stroke="#222" stroke-width="1.4" />
<line x1="327.0" y1="902.1" x2="327.0" y2="1249.3" stroke="#111" stroke-width="2.0" stroke-dasharray="8.6 6.4" stroke-dashoffset="5.00"/>
<path d="M189.5,942.1 V936.3 H294.5 V942.1" fill="none" stroke="#222" stroke-width="1.4"/>
<path d="M363.5,942.1 V936.3 H468.4 V942.1" fill="none" stroke="#222" stroke-width="1.4"/>
<path d="M242.5,936.3 V930.7 H418.3 V936.3" fill="none" stroke="#222" stroke-width="1.4"/>
<rect x="300" y="906" width="60" height="23.5" fill="#fff"/>
<path d="M315.30,917.85 L315.30,912.95 M315.30,917.85 L319.96,916.34 M315.30,917.85 L318.18,921.81 M315.30,917.85 L312.42,921.81 M315.30,917.85 L310.64,916.34 " stroke="#111" stroke-width="2.4" stroke-linecap="round" fill="none"/>
<path d="M330.50,917.85 L330.50,912.95 M330.50,917.85 L335.16,916.34 M330.50,917.85 L333.38,921.81 M330.50,917.85 L327.62,921.81 M330.50,917.85 L325.84,916.34 " stroke="#111" stroke-width="2.4" stroke-linecap="round" fill="none"/>
<path d="M345.50,917.85 L345.50,912.95 M345.50,917.85 L350.16,916.34 M345.50,917.85 L348.38,921.81 M345.50,917.85 L342.62,921.81 M345.50,917.85 L340.84,916.34 " stroke="#111" stroke-width="2.4" stroke-linecap="round" fill="none"/>
<line x1="203.2" y1="1047.6" x2="203.2" y2="1007.9" stroke="#111" stroke-width="1.8" stroke-dasharray="6 4"/>
<line x1="203.2" y1="1114.2" x2="203.2" y2="1169.8" stroke="#111" stroke-width="1.8" stroke-dasharray="6 4"/>
<line x1="185.5" y1="1007.9" x2="220.9" y2="1007.9" stroke="#111" stroke-width="1.8" />
<line x1="185.5" y1="1169.8" x2="220.9" y2="1169.8" stroke="#111" stroke-width="1.8" />
<rect x="170.5" y="1047.6" width="66.8" height="66.6" fill="#cafd6c" stroke="#111" stroke-width="1.6"/>
<line x1="170.5" y1="1091.4" x2="237.3" y2="1091.4" stroke="#000" stroke-width="5.0" />
<line x1="285.9" y1="1132.6" x2="285.9" y2="1089.5" stroke="#111" stroke-width="1.8" stroke-dasharray="6 4"/>
<line x1="285.9" y1="1168.1" x2="285.9" y2="1181.4" stroke="#111" stroke-width="1.8" stroke-dasharray="6 4"/>
<line x1="268.2" y1="1089.5" x2="303.5" y2="1089.5" stroke="#111" stroke-width="1.8" />
<line x1="268.2" y1="1181.4" x2="303.5" y2="1181.4" stroke="#111" stroke-width="1.8" />
<rect x="253.4" y="1132.6" width="66.2" height="35.5" fill="#fffacd" stroke="#111" stroke-width="1.6"/>
<line x1="253.4" y1="1145.7" x2="319.6" y2="1145.7" stroke="#000" stroke-width="5.0" />
<line x1="368.8" y1="998.7" x2="368.8" y2="949.8" stroke="#111" stroke-width="1.8" stroke-dasharray="6 4"/>
<line x1="368.8" y1="1080.2" x2="368.8" y2="1162.8" stroke="#111" stroke-width="1.8" stroke-dasharray="6 4"/>
<line x1="351.2" y1="949.8" x2="386.4" y2="949.8" stroke="#111" stroke-width="1.8" />
<line x1="351.2" y1="1162.8" x2="386.4" y2="1162.8" stroke="#111" stroke-width="1.8" />
<rect x="336.4" y="998.7" width="66.9" height="81.5" fill="#cafd6c" stroke="#111" stroke-width="1.6"/>
<line x1="336.4" y1="1045.9" x2="403.3" y2="1045.9" stroke="#000" stroke-width="5.0" />
<line x1="451.4" y1="1102.6" x2="451.4" y2="1087.4" stroke="#111" stroke-width="1.8" stroke-dasharray="6 4"/>
<line x1="451.4" y1="1144.2" x2="451.4" y2="1177.7" stroke="#111" stroke-width="1.8" stroke-dasharray="6 4"/>
<line x1="434.0" y1="1087.4" x2="468.8" y2="1087.4" stroke="#111" stroke-width="1.8" />
<line x1="434.0" y1="1177.7" x2="468.8" y2="1177.7" stroke="#111" stroke-width="1.8" />
<rect x="418.9" y="1102.6" width="67.2" height="41.6" fill="#fffacd" stroke="#111" stroke-width="1.6"/>
<line x1="418.9" y1="1117.2" x2="486.1" y2="1117.2" stroke="#000" stroke-width="5.0" />
<path d="M206.5,1204.0 V1209.5 H280.1 V1204.0" fill="none" stroke="#222" stroke-width="1.4"/>
<path d="M232.50,1221.10 L232.50,1226.00 M232.50,1221.10 L227.84,1222.61 M232.50,1221.10 L229.62,1217.14 M232.50,1221.10 L235.38,1217.14 M232.50,1221.10 L237.16,1222.61 " stroke="#0da9ea" stroke-width="2.4" stroke-linecap="round" fill="none"/>
<path d="M247.40,1221.10 L247.40,1226.00 M247.40,1221.10 L242.74,1222.61 M247.40,1221.10 L244.52,1217.14 M247.40,1221.10 L250.28,1217.14 M247.40,1221.10 L252.06,1222.61 " stroke="#0da9ea" stroke-width="2.4" stroke-linecap="round" fill="none"/>
<path d="M376.8,1204.1 V1209.6 H449.9 V1204.1" fill="none" stroke="#222" stroke-width="1.4"/>
<path d="M398.50,1219.85 L398.50,1224.75 M398.50,1219.85 L393.84,1221.36 M398.50,1219.85 L395.62,1215.89 M398.50,1219.85 L401.38,1215.89 M398.50,1219.85 L403.16,1221.36 " stroke="#0da9ea" stroke-width="2.4" stroke-linecap="round" fill="none"/>
<path d="M413.40,1219.85 L413.40,1224.75 M413.40,1219.85 L408.74,1221.36 M413.40,1219.85 L410.52,1215.89 M413.40,1219.85 L416.28,1215.89 M413.40,1219.85 L418.06,1221.36 " stroke="#0da9ea" stroke-width="2.4" stroke-linecap="round" fill="none"/>
<path d="M428.30,1219.85 L428.30,1224.75 M428.30,1219.85 L423.64,1221.36 M428.30,1219.85 L425.42,1215.89 M428.30,1219.85 L431.18,1215.89 M428.30,1219.85 L432.96,1221.36 " stroke="#0da9ea" stroke-width="2.4" stroke-linecap="round" fill="none"/>
<rect x="699.8" y="902.5" width="356.70000000000005" height="346.4000000000001" fill="none" stroke="#222" stroke-width="1.4"/>
<line x1="688.3" y1="1236.2" x2="699.8" y2="1236.2" stroke="#222" stroke-width="1.4" />
<text x="676.5" y="1243.9" font-size="23.5" text-anchor="end" fill="#111" textLength="35.5" lengthAdjust="spacingAndGlyphs">0.6</text>
<line x1="688.3" y1="1108.2" x2="699.8" y2="1108.2" stroke="#222" stroke-width="1.4" />
<text x="676.5" y="1115.9" font-size="23.5" text-anchor="end" fill="#111" textLength="32.5" lengthAdjust="spacingAndGlyphs">1.0</text>
<line x1="688.3" y1="979.6" x2="699.8" y2="979.6" stroke="#222" stroke-width="1.4" />
<text x="676.5" y="987.3" font-size="23.5" text-anchor="end" fill="#111" textLength="30.8" lengthAdjust="spacingAndGlyphs">1.4</text>
<line x1="755.6" y1="1248.9" x2="755.6" y2="1260.4" stroke="#222" stroke-width="1.4" />
<line x1="838.0" y1="1248.9" x2="838.0" y2="1260.4" stroke="#222" stroke-width="1.4" />
<line x1="920.2" y1="1248.9" x2="920.2" y2="1260.4" stroke="#222" stroke-width="1.4" />
<line x1="1003.2" y1="1248.9" x2="1003.2" y2="1260.4" stroke="#222" stroke-width="1.4" />
<line x1="878.1" y1="932.5" x2="878.1" y2="1248.9" stroke="#111" stroke-width="1.9" stroke-dasharray="8.6 6.4" stroke-dashoffset="6.50"/>
<path d="M742.0,949.6 V944.2 H846.9 V949.6" fill="none" stroke="#222" stroke-width="1.3"/>
<path d="M915.3,949.6 V944.2 H1020.5 V949.6" fill="none" stroke="#222" stroke-width="1.3"/>
<path d="M794.9,944.2 V938.2 H970.5 V944.2" fill="none" stroke="#222" stroke-width="1.3"/>
<path d="M866.40,920.00 L866.40,915.10 M866.40,920.00 L871.06,918.49 M866.40,920.00 L869.28,923.96 M866.40,920.00 L863.52,923.96 M866.40,920.00 L861.74,918.49 " stroke="#111" stroke-width="2.4" stroke-linecap="round" fill="none"/>
<path d="M881.50,920.00 L881.50,915.10 M881.50,920.00 L886.16,918.49 M881.50,920.00 L884.38,923.96 M881.50,920.00 L878.62,923.96 M881.50,920.00 L876.84,918.49 " stroke="#111" stroke-width="2.4" stroke-linecap="round" fill="none"/>
<line x1="755.6" y1="1065.5" x2="755.6" y2="1022.0" stroke="#111" stroke-width="1.8" stroke-dasharray="6 4"/>
<line x1="755.6" y1="1138.7" x2="755.6" y2="1200.8" stroke="#111" stroke-width="1.8" stroke-dasharray="6 4"/>
<line x1="737.9" y1="1022.0" x2="773.3" y2="1022.0" stroke="#111" stroke-width="1.8" />
<line x1="737.9" y1="1200.8" x2="773.3" y2="1200.8" stroke="#111" stroke-width="1.8" />
<rect x="721.7" y="1065.5" width="66.8" height="73.2" fill="#cafd6c" stroke="#111" stroke-width="1.5"/>
<line x1="721.7" y1="1113.2" x2="788.5" y2="1113.2" stroke="#000" stroke-width="4.6" />
<line x1="837.7" y1="1090.4" x2="837.7" y2="1028.0" stroke="#111" stroke-width="1.8" stroke-dasharray="6 4"/>
<line x1="837.7" y1="1137.3" x2="837.7" y2="1156.2" stroke="#111" stroke-width="1.8" stroke-dasharray="6 4"/>
<line x1="820.2" y1="1028.0" x2="855.2" y2="1028.0" stroke="#111" stroke-width="1.8" />
<line x1="820.2" y1="1156.2" x2="855.2" y2="1156.2" stroke="#111" stroke-width="1.8" />
<rect x="804.6" y="1090.4" width="66.4" height="46.9" fill="#fffacd" stroke="#111" stroke-width="1.5"/>
<line x1="804.6" y1="1108.9" x2="871.0" y2="1108.9" stroke="#000" stroke-width="4.6" />
<line x1="919.7" y1="1011.1" x2="919.7" y2="956.1" stroke="#111" stroke-width="1.8" stroke-dasharray="6 4"/>
<line x1="919.7" y1="1101.9" x2="919.7" y2="1193.8" stroke="#111" stroke-width="1.8" stroke-dasharray="6 4"/>
<line x1="902.1" y1="956.1" x2="937.4" y2="956.1" stroke="#111" stroke-width="1.8" />
<line x1="902.1" y1="1193.8" x2="937.4" y2="1193.8" stroke="#111" stroke-width="1.8" />
<rect x="887.7" y="1011.1" width="65.9" height="90.8" fill="#cafd6c" stroke="#111" stroke-width="1.5"/>
<line x1="887.7" y1="1063.5" x2="953.6" y2="1063.5" stroke="#000" stroke-width="4.6" />
<line x1="1002.6" y1="1046.4" x2="1002.6" y2="1025.8" stroke="#111" stroke-width="1.8" stroke-dasharray="6 4"/>
<line x1="1002.6" y1="1104.9" x2="1002.6" y2="1150.4" stroke="#111" stroke-width="1.8" stroke-dasharray="6 4"/>
<line x1="984.6" y1="1025.8" x2="1020.6" y2="1025.8" stroke="#111" stroke-width="1.8" />
<line x1="984.6" y1="1150.4" x2="1020.6" y2="1150.4" stroke="#111" stroke-width="1.8" />
<rect x="970.3" y="1046.4" width="66.9" height="58.5" fill="#fffacd" stroke="#111" stroke-width="1.5"/>
<line x1="970.3" y1="1067.2" x2="1037.2" y2="1067.2" stroke="#000" stroke-width="4.6" />
<rect x="149.4" y="1323.6" width="356.6" height="347.0" fill="none" stroke="#222" stroke-width="1.4"/>
<line x1="137.9" y1="1622.6" x2="149.4" y2="1622.6" stroke="#222" stroke-width="1.4" />
<text x="124.0" y="1630.3" font-size="23.5" text-anchor="end" fill="#111" textLength="28.6" lengthAdjust="spacingAndGlyphs">80</text>
<line x1="137.9" y1="1551.4" x2="149.4" y2="1551.4" stroke="#222" stroke-width="1.4" />
<text x="123.9" y="1559.1" font-size="23.5" text-anchor="end" fill="#111" textLength="40.8" lengthAdjust="spacingAndGlyphs">100</text>
<line x1="137.9" y1="1480.2" x2="149.4" y2="1480.2" stroke="#222" stroke-width="1.4" />
<text x="123.9" y="1487.9" font-size="23.5" text-anchor="end" fill="#111" textLength="37.7" lengthAdjust="spacingAndGlyphs">120</text>
<line x1="137.9" y1="1408.8" x2="149.4" y2="1408.8" stroke="#222" stroke-width="1.4" />
<text x="123.9" y="1416.5" font-size="23.5" text-anchor="end" fill="#111" textLength="40.1" lengthAdjust="spacingAndGlyphs">140</text>
<line x1="203.3" y1="1670.6" x2="203.3" y2="1682.1" stroke="#222" stroke-width="1.4" />
<line x1="285.9" y1="1670.6" x2="285.9" y2="1682.1" stroke="#222" stroke-width="1.4" />
<line x1="368.5" y1="1670.6" x2="368.5" y2="1682.1" stroke="#222" stroke-width="1.4" />
<line x1="451.3" y1="1670.6" x2="451.3" y2="1682.1" stroke="#222" stroke-width="1.4" />
<line x1="327.0" y1="1323.6" x2="327.0" y2="1670.6" stroke="#111" stroke-width="2.0" stroke-dasharray="8.6 6.4" stroke-dashoffset="5.40"/>
<path d="M187.7,1370.4 V1364.6 H292.6 V1370.4" fill="none" stroke="#222" stroke-width="1.4"/>
<path d="M361.5,1370.4 V1364.6 H466.2 V1370.4" fill="none" stroke="#222" stroke-width="1.4"/>
<path d="M240.6,1364.6 V1359.0 H416.4 V1364.6" fill="none" stroke="#222" stroke-width="1.4"/>
<rect x="300" y="1327" width="60" height="30.5" fill="#fff"/>
<path d="M312.40,1343.85 L312.40,1338.95 M312.40,1343.85 L317.06,1342.34 M312.40,1343.85 L315.28,1347.81 M312.40,1343.85 L309.52,1347.81 M312.40,1343.85 L307.74,1342.34 " stroke="#111" stroke-width="2.4" stroke-linecap="round" fill="none"/>
<path d="M327.50,1343.85 L327.50,1338.95 M327.50,1343.85 L332.16,1342.34 M327.50,1343.85 L330.38,1347.81 M327.50,1343.85 L324.62,1347.81 M327.50,1343.85 L322.84,1342.34 " stroke="#111" stroke-width="2.4" stroke-linecap="round" fill="none"/>
<path d="M342.50,1343.85 L342.50,1338.95 M342.50,1343.85 L347.16,1342.34 M342.50,1343.85 L345.38,1347.81 M342.50,1343.85 L339.62,1347.81 M342.50,1343.85 L337.84,1342.34 " stroke="#111" stroke-width="2.4" stroke-linecap="round" fill="none"/>
<line x1="203.0" y1="1451.8" x2="203.0" y2="1400.8" stroke="#111" stroke-width="1.8" stroke-dasharray="6 4"/>
<line x1="203.0" y1="1516.2" x2="203.0" y2="1532.8" stroke="#111" stroke-width="1.8" stroke-dasharray="6 4"/>
<line x1="185.2" y1="1400.8" x2="220.8" y2="1400.8" stroke="#111" stroke-width="1.8" />
<line x1="185.2" y1="1532.8" x2="220.8" y2="1532.8" stroke="#111" stroke-width="1.8" />
<rect x="170.6" y="1451.8" width="66.8" height="64.4" fill="#cafd6c" stroke="#111" stroke-width="1.6"/>
<line x1="170.6" y1="1474.5" x2="237.4" y2="1474.5" stroke="#000" stroke-width="5.0" />
<line x1="285.8" y1="1415.9" x2="285.8" y2="1376.6" stroke="#111" stroke-width="1.8" stroke-dasharray="6 4"/>
<line x1="285.8" y1="1493.9" x2="285.8" y2="1516.2" stroke="#111" stroke-width="1.8" stroke-dasharray="6 4"/>
<line x1="268.1" y1="1376.6" x2="303.6" y2="1376.6" stroke="#111" stroke-width="1.8" />
<line x1="268.1" y1="1516.2" x2="303.6" y2="1516.2" stroke="#111" stroke-width="1.8" />
<rect x="253.8" y="1415.9" width="66.2" height="78.0" fill="#fffacd" stroke="#111" stroke-width="1.6"/>
<line x1="253.8" y1="1472.7" x2="320.0" y2="1472.7" stroke="#000" stroke-width="5.0" />
<line x1="369" y1="1570.8" x2="369" y2="1550.1" stroke="#111" stroke-width="1.8" stroke-dasharray="6 4"/>
<line x1="369" y1="1606.8" x2="369" y2="1629.1" stroke="#111" stroke-width="1.8" stroke-dasharray="6 4"/>
<line x1="351.4" y1="1550.1" x2="386.6" y2="1550.1" stroke="#111" stroke-width="1.8" />
<line x1="351.4" y1="1629.1" x2="386.6" y2="1629.1" stroke="#111" stroke-width="1.8" />
<rect x="336.4" y="1570.8" width="66.9" height="36.0" fill="#cafd6c" stroke="#111" stroke-width="1.6"/>
<line x1="336.4" y1="1591.7" x2="403.3" y2="1591.7" stroke="#000" stroke-width="5.0" />
<line x1="452" y1="1576.6" x2="452" y2="1555.9" stroke="#111" stroke-width="1.8" stroke-dasharray="6 4"/>
<line x1="452" y1="1625.4" x2="452" y2="1646.2" stroke="#111" stroke-width="1.8" stroke-dasharray="6 4"/>
<line x1="434.2" y1="1555.9" x2="469.8" y2="1555.9" stroke="#111" stroke-width="1.8" />
<line x1="434.2" y1="1646.2" x2="469.8" y2="1646.2" stroke="#111" stroke-width="1.8" />
<rect x="419.5" y="1576.6" width="66.6" height="48.8" fill="#fffacd" stroke="#111" stroke-width="1.6"/>
<line x1="419.5" y1="1603.0" x2="486.1" y2="1603.0" stroke="#000" stroke-width="5.0" />
<rect x="700" y="1323.6" width="356.79999999999995" height="347.0" fill="none" stroke="#222" stroke-width="1.4"/>
<line x1="688.5" y1="1658.5" x2="700.0" y2="1658.5" stroke="#222" stroke-width="1.4" />
<text x="676.2" y="1666.2" font-size="23.5" text-anchor="end" fill="#111" textLength="12.3" lengthAdjust="spacingAndGlyphs">2</text>
<line x1="688.5" y1="1604.8" x2="700.0" y2="1604.8" stroke="#222" stroke-width="1.4" />
<text x="676.2" y="1612.5" font-size="23.5" text-anchor="end" fill="#111" textLength="12.3" lengthAdjust="spacingAndGlyphs">3</text>
<line x1="688.5" y1="1551.0" x2="700.0" y2="1551.0" stroke="#222" stroke-width="1.4" />
<text x="676.2" y="1558.7" font-size="23.5" text-anchor="end" fill="#111" textLength="12.8" lengthAdjust="spacingAndGlyphs">4</text>
<line x1="688.5" y1="1497.2" x2="700.0" y2="1497.2" stroke="#222" stroke-width="1.4" />
<text x="676.2" y="1504.9" font-size="23.5" text-anchor="end" fill="#111" textLength="12.3" lengthAdjust="spacingAndGlyphs">5</text>
<line x1="688.5" y1="1443.7" x2="700.0" y2="1443.7" stroke="#222" stroke-width="1.4" />
<text x="676.2" y="1451.4" font-size="23.5" text-anchor="end" fill="#111" textLength="12.7" lengthAdjust="spacingAndGlyphs">6</text>
<line x1="688.5" y1="1390.1" x2="700.0" y2="1390.1" stroke="#222" stroke-width="1.4" />
<text x="676.2" y="1397.8" font-size="23.5" text-anchor="end" fill="#111" textLength="9.4" lengthAdjust="spacingAndGlyphs">7</text>
<line x1="688.5" y1="1335.9" x2="700.0" y2="1335.9" stroke="#222" stroke-width="1.4" />
<text x="676.2" y="1343.6" font-size="23.5" text-anchor="end" fill="#111" textLength="12.7" lengthAdjust="spacingAndGlyphs">8</text>
<line x1="755.6" y1="1670.6" x2="755.6" y2="1682.1" stroke="#222" stroke-width="1.4" />
<line x1="838.0" y1="1670.6" x2="838.0" y2="1682.1" stroke="#222" stroke-width="1.4" />
<line x1="920.2" y1="1670.6" x2="920.2" y2="1682.1" stroke="#222" stroke-width="1.4" />
<line x1="1003.2" y1="1670.6" x2="1003.2" y2="1682.1" stroke="#222" stroke-width="1.4" />
<line x1="878.0" y1="1323.6" x2="878.0" y2="1670.6" stroke="#111" stroke-width="1.9" stroke-dasharray="8.6 6.4" stroke-dashoffset="6.50"/>
<path d="M738.4,1372.9 V1367.1 H843.8 V1372.9" fill="none" stroke="#222" stroke-width="1.4"/>
<path d="M913.0,1372.9 V1367.1 H1017.8 V1372.9" fill="none" stroke="#222" stroke-width="1.4"/>
<path d="M791.9,1367.1 V1361.2 H967.5 V1367.1" fill="none" stroke="#222" stroke-width="1.4"/>
<rect x="850" y="1326" width="60" height="34" fill="#fff"/>
<path d="M864.50,1347.85 L864.50,1342.95 M864.50,1347.85 L869.16,1346.34 M864.50,1347.85 L867.38,1351.81 M864.50,1347.85 L861.62,1351.81 M864.50,1347.85 L859.84,1346.34 " stroke="#111" stroke-width="2.4" stroke-linecap="round" fill="none"/>
<path d="M879.50,1347.85 L879.50,1342.95 M879.50,1347.85 L884.16,1346.34 M879.50,1347.85 L882.38,1351.81 M879.50,1347.85 L876.62,1351.81 M879.50,1347.85 L874.84,1346.34 " stroke="#111" stroke-width="2.4" stroke-linecap="round" fill="none"/>
<path d="M894.50,1347.85 L894.50,1342.95 M894.50,1347.85 L899.16,1346.34 M894.50,1347.85 L897.38,1351.81 M894.50,1347.85 L891.62,1351.81 M894.50,1347.85 L889.84,1346.34 " stroke="#111" stroke-width="2.4" stroke-linecap="round" fill="none"/>
<line x1="755.6" y1="1501.7" x2="755.6" y2="1426.3" stroke="#111" stroke-width="1.8" stroke-dasharray="6 4"/>
<line x1="755.6" y1="1566.4" x2="755.6" y2="1577.8" stroke="#111" stroke-width="1.8" stroke-dasharray="6 4"/>
<line x1="737.7" y1="1426.3" x2="773.5" y2="1426.3" stroke="#111" stroke-width="1.8" />
<line x1="737.7" y1="1577.8" x2="773.5" y2="1577.8" stroke="#111" stroke-width="1.8" />
<rect x="721.6" y="1501.7" width="66.9" height="64.7" fill="#cafd6c" stroke="#111" stroke-width="1.6"/>
<line x1="721.6" y1="1545.4" x2="788.5" y2="1545.4" stroke="#000" stroke-width="5.0" />
<line x1="837.7" y1="1467.7" x2="837.7" y2="1403.9" stroke="#111" stroke-width="1.8" stroke-dasharray="6 4"/>
<line x1="837.7" y1="1517.0" x2="837.7" y2="1543.7" stroke="#111" stroke-width="1.8" stroke-dasharray="6 4"/>
<line x1="820.1" y1="1403.9" x2="855.3" y2="1403.9" stroke="#111" stroke-width="1.8" />
<line x1="820.1" y1="1543.7" x2="855.3" y2="1543.7" stroke="#111" stroke-width="1.8" />
<rect x="804.6" y="1467.7" width="66.4" height="49.3" fill="#fffacd" stroke="#111" stroke-width="1.6"/>
<line x1="804.6" y1="1492.4" x2="871.0" y2="1492.4" stroke="#000" stroke-width="5.0" />
<line x1="920" y1="1608.2" x2="920" y2="1574.0" stroke="#111" stroke-width="1.8" stroke-dasharray="6 4"/>
<line x1="920" y1="1640.0" x2="920" y2="1657.0" stroke="#111" stroke-width="1.8" stroke-dasharray="6 4"/>
<line x1="902.5" y1="1574.0" x2="937.5" y2="1574.0" stroke="#111" stroke-width="1.8" />
<line x1="902.5" y1="1657.0" x2="937.5" y2="1657.0" stroke="#111" stroke-width="1.8" />
<rect x="887.8" y="1608.2" width="66.5" height="31.8" fill="#cafd6c" stroke="#111" stroke-width="1.6"/>
<line x1="887.8" y1="1626.4" x2="954.3" y2="1626.4" stroke="#000" stroke-width="5.0" />
<line x1="1002.9" y1="1571.5" x2="1002.9" y2="1564.2" stroke="#111" stroke-width="1.8" stroke-dasharray="6 4"/>
<line x1="1002.9" y1="1594.6" x2="1002.9" y2="1613.4" stroke="#111" stroke-width="1.8" stroke-dasharray="6 4"/>
<line x1="985.3" y1="1564.2" x2="1020.5" y2="1564.2" stroke="#111" stroke-width="1.8" />
<line x1="985.3" y1="1613.4" x2="1020.5" y2="1613.4" stroke="#111" stroke-width="1.8" />
<rect x="970.6" y="1571.5" width="66.7" height="23.1" fill="#fffacd" stroke="#111" stroke-width="1.6"/>
<line x1="970.6" y1="1584.5" x2="1037.3" y2="1584.5" stroke="#000" stroke-width="5.0" />
<path d="M754.4,1586.3 V1591.9 H828.4 V1586.3" fill="none" stroke="#222" stroke-width="1.4"/>
<path d="M786.40,1605.15 L786.40,1610.05 M786.40,1605.15 L781.74,1606.66 M786.40,1605.15 L783.52,1601.19 M786.40,1605.15 L789.28,1601.19 M786.40,1605.15 L791.06,1606.66 " stroke="#0da9ea" stroke-width="2.4" stroke-linecap="round" fill="none"/>
<path d="M926.6,1497.1 V1491.9 H1000.4 V1497.1" fill="none" stroke="#222" stroke-width="1.4"/>
<path d="M948.50,1479.85 L948.50,1474.95 M948.50,1479.85 L953.16,1478.34 M948.50,1479.85 L951.38,1483.81 M948.50,1479.85 L945.62,1483.81 M948.50,1479.85 L943.84,1478.34 " stroke="#0da9ea" stroke-width="2.4" stroke-linecap="round" fill="none"/>
<path d="M963.40,1479.85 L963.40,1474.95 M963.40,1479.85 L968.06,1478.34 M963.40,1479.85 L966.28,1483.81 M963.40,1479.85 L960.52,1483.81 M963.40,1479.85 L958.74,1478.34 " stroke="#0da9ea" stroke-width="2.4" stroke-linecap="round" fill="none"/>
<path d="M978.30,1479.85 L978.30,1474.95 M978.30,1479.85 L982.96,1478.34 M978.30,1479.85 L981.18,1483.81 M978.30,1479.85 L975.42,1483.81 M978.30,1479.85 L973.64,1478.34 " stroke="#0da9ea" stroke-width="2.4" stroke-linecap="round" fill="none"/>
<circle cx="373.9" cy="685.2" r="6.1" fill="#088a0a"/>
<circle cx="370.3" cy="700.5" r="6.1" fill="#088a0a"/>
<circle cx="364.9" cy="712.1" r="6.1" fill="#088a0a"/>
<circle cx="364.0" cy="719.3" r="6.1" fill="#088a0a"/>
<circle cx="375.7" cy="727.4" r="6.1" fill="#088a0a"/>
<circle cx="363.1" cy="736.4" r="6.1" fill="#088a0a"/>
<circle cx="375.7" cy="733.7" r="6.1" fill="#088a0a"/>
<circle cx="368.5" cy="742.7" r="6.1" fill="#088a0a"/>
<circle cx="361.3" cy="748.0" r="6.1" fill="#088a0a"/>
<circle cx="373.9" cy="746.2" r="6.1" fill="#088a0a"/>
<circle cx="364.9" cy="755.2" r="6.1" fill="#088a0a"/>
<circle cx="375.7" cy="760.6" r="6.1" fill="#088a0a"/>
<circle cx="368.5" cy="767.8" r="6.1" fill="#088a0a"/>
<circle cx="363.1" cy="787.6" r="6.1" fill="#088a0a"/>
<circle cx="373.9" cy="785.8" r="6.1" fill="#088a0a"/>
<circle cx="364.9" cy="796.5" r="6.1" fill="#088a0a"/>
<circle cx="372.1" cy="796.5" r="6.1" fill="#088a0a"/>
<circle cx="367.6" cy="706.3" r="6.1" fill="#088a0a"/>
<circle cx="364.5" cy="715.7" r="6.1" fill="#088a0a"/>
<circle cx="369.8" cy="723.4" r="6.1" fill="#088a0a"/>
<circle cx="369.4" cy="735.0" r="6.1" fill="#088a0a"/>
<circle cx="365.8" cy="739.5" r="6.1" fill="#088a0a"/>
<circle cx="367.6" cy="747.1" r="6.1" fill="#088a0a"/>
<circle cx="363.1" cy="751.6" r="6.1" fill="#088a0a"/>
<circle cx="370.3" cy="757.9" r="6.1" fill="#088a0a"/>
<circle cx="372.1" cy="764.2" r="6.1" fill="#088a0a"/>
<circle cx="368.5" cy="786.7" r="6.1" fill="#088a0a"/>
<circle cx="364.0" cy="792.0" r="6.1" fill="#088a0a"/>
<circle cx="368.5" cy="796.5" r="6.1" fill="#088a0a"/>
<circle cx="448.4" cy="608.9" r="6.1" fill="#ff8c05"/>
<circle cx="452.9" cy="621.4" r="6.1" fill="#ff8c05"/>
<circle cx="446.6" cy="645.7" r="6.1" fill="#ff8c05"/>
<circle cx="456.5" cy="649.3" r="6.1" fill="#ff8c05"/>
<circle cx="452.9" cy="658.2" r="6.1" fill="#ff8c05"/>
<circle cx="458.3" cy="667.2" r="6.1" fill="#ff8c05"/>
<circle cx="452.0" cy="676.2" r="6.1" fill="#ff8c05"/>
<circle cx="456.5" cy="679.8" r="6.1" fill="#ff8c05"/>
<circle cx="445.7" cy="687.9" r="6.1" fill="#ff8c05"/>
<circle cx="454.7" cy="688.8" r="6.1" fill="#ff8c05"/>
<circle cx="452.9" cy="697.8" r="6.1" fill="#ff8c05"/>
<circle cx="458.3" cy="701.4" r="6.1" fill="#ff8c05"/>
<circle cx="449.3" cy="706.7" r="6.1" fill="#ff8c05"/>
<circle cx="454.7" cy="715.7" r="6.1" fill="#ff8c05"/>
<circle cx="456.5" cy="722.9" r="6.1" fill="#ff8c05"/>
<circle cx="451.1" cy="731.9" r="6.1" fill="#ff8c05"/>
<circle cx="454.7" cy="748.0" r="6.1" fill="#ff8c05"/>
<circle cx="449.3" cy="755.2" r="6.1" fill="#ff8c05"/>
<circle cx="456.5" cy="758.8" r="6.1" fill="#ff8c05"/>
<circle cx="445.7" cy="767.8" r="6.1" fill="#ff8c05"/>
<circle cx="458.3" cy="769.6" r="6.1" fill="#ff8c05"/>
<circle cx="451.1" cy="776.8" r="6.1" fill="#ff8c05"/>
<circle cx="456.5" cy="780.4" r="6.1" fill="#ff8c05"/>
<circle cx="449.3" cy="787.6" r="6.1" fill="#ff8c05"/>
<circle cx="454.7" cy="792.9" r="6.1" fill="#ff8c05"/>
<circle cx="448.4" cy="794.7" r="6.1" fill="#ff8c05"/>
<circle cx="450.7" cy="615.1" r="6.1" fill="#ff8c05"/>
<circle cx="451.6" cy="647.5" r="6.1" fill="#ff8c05"/>
<circle cx="454.7" cy="653.8" r="6.1" fill="#ff8c05"/>
<circle cx="455.6" cy="662.7" r="6.1" fill="#ff8c05"/>
<circle cx="455.1" cy="671.7" r="6.1" fill="#ff8c05"/>
<circle cx="451.1" cy="683.8" r="6.1" fill="#ff8c05"/>
<circle cx="450.2" cy="688.3" r="6.1" fill="#ff8c05"/>
<circle cx="453.8" cy="693.3" r="6.1" fill="#ff8c05"/>
<circle cx="453.8" cy="704.0" r="6.1" fill="#ff8c05"/>
<circle cx="452.0" cy="711.2" r="6.1" fill="#ff8c05"/>
<circle cx="455.6" cy="719.3" r="6.1" fill="#ff8c05"/>
<circle cx="453.8" cy="727.4" r="6.1" fill="#ff8c05"/>
<circle cx="452.0" cy="751.6" r="6.1" fill="#ff8c05"/>
<circle cx="452.9" cy="757.0" r="6.1" fill="#ff8c05"/>
<circle cx="451.1" cy="763.3" r="6.1" fill="#ff8c05"/>
<circle cx="452.0" cy="768.7" r="6.1" fill="#ff8c05"/>
<circle cx="454.7" cy="773.2" r="6.1" fill="#ff8c05"/>
<circle cx="452.9" cy="784.0" r="6.1" fill="#ff8c05"/>
<circle cx="452.0" cy="790.3" r="6.1" fill="#ff8c05"/>
<circle cx="443.5" cy="557.0" r="6.1" fill="#ff8c05"/>
<circle cx="195.0" cy="823.5" r="6.1" fill="#088a0a"/>
<circle cx="200.0" cy="823.5" r="6.1" fill="#088a0a"/>
<circle cx="205.0" cy="823.5" r="6.1" fill="#088a0a"/>
<circle cx="210.0" cy="823.5" r="6.1" fill="#088a0a"/>
<circle cx="279.0" cy="823.5" r="6.1" fill="#ff8c05"/>
<circle cx="284.0" cy="823.5" r="6.1" fill="#ff8c05"/>
<circle cx="289.0" cy="823.5" r="6.1" fill="#ff8c05"/>
<circle cx="294.0" cy="823.5" r="6.1" fill="#ff8c05"/>
<circle cx="746.0" cy="822.5" r="6.1" fill="#088a0a"/>
<circle cx="752.0" cy="822.5" r="6.1" fill="#088a0a"/>
<circle cx="758.0" cy="822.5" r="6.1" fill="#088a0a"/>
<circle cx="763.0" cy="822.5" r="6.1" fill="#088a0a"/>
<circle cx="838.5" cy="822.5" r="6.1" fill="#ff8c05"/>
<circle cx="843.5" cy="822.5" r="6.1" fill="#ff8c05"/>
<circle cx="913.0" cy="530.5" r="6.1" fill="#088a0a"/>
<circle cx="917.0" cy="530.5" r="6.1" fill="#088a0a"/>
<circle cx="921.0" cy="530.5" r="6.1" fill="#088a0a"/>
<circle cx="925.0" cy="530.5" r="6.1" fill="#088a0a"/>
<circle cx="929.0" cy="530.5" r="6.1" fill="#088a0a"/>
<circle cx="914.7" cy="559.0" r="6.1" fill="#088a0a"/>
<circle cx="918.0" cy="559.0" r="6.1" fill="#088a0a"/>
<circle cx="921.0" cy="559.0" r="6.1" fill="#088a0a"/>
<circle cx="924.0" cy="559.0" r="6.1" fill="#088a0a"/>
<circle cx="927.0" cy="559.0" r="6.1" fill="#088a0a"/>
<circle cx="912.4" cy="589.1" r="6.1" fill="#088a0a"/>
<circle cx="925.5" cy="589.1" r="6.1" fill="#088a0a"/>
<circle cx="997.0" cy="530.5" r="6.1" fill="#ff8c05"/>
<circle cx="1001.0" cy="530.5" r="6.1" fill="#ff8c05"/>
<circle cx="1005.0" cy="530.5" r="6.1" fill="#ff8c05"/>
<circle cx="1010.0" cy="530.5" r="6.1" fill="#ff8c05"/>
<circle cx="997.0" cy="559.0" r="6.1" fill="#ff8c05"/>
<circle cx="1001.0" cy="559.0" r="6.1" fill="#ff8c05"/>
<circle cx="1004.0" cy="559.0" r="6.1" fill="#ff8c05"/>
<circle cx="1008.0" cy="559.0" r="6.1" fill="#ff8c05"/>
<circle cx="194.8" cy="1007.1" r="6.1" fill="#088a0a"/>
<circle cx="205.4" cy="1013.1" r="6.1" fill="#088a0a"/>
<circle cx="197.1" cy="1024.5" r="6.1" fill="#088a0a"/>
<circle cx="209.9" cy="1029.0" r="6.1" fill="#088a0a"/>
<circle cx="197.8" cy="1038.9" r="6.1" fill="#088a0a"/>
<circle cx="208.4" cy="1043.4" r="6.1" fill="#088a0a"/>
<circle cx="205.4" cy="1047.9" r="6.1" fill="#088a0a"/>
<circle cx="202.3" cy="1058.5" r="6.1" fill="#088a0a"/>
<circle cx="196.3" cy="1064.6" r="6.1" fill="#088a0a"/>
<circle cx="209.9" cy="1066.1" r="6.1" fill="#088a0a"/>
<circle cx="212.9" cy="1072.1" r="6.1" fill="#088a0a"/>
<circle cx="203.9" cy="1073.6" r="6.1" fill="#088a0a"/>
<circle cx="202.3" cy="1087.2" r="6.1" fill="#088a0a"/>
<circle cx="203.9" cy="1091.8" r="6.1" fill="#088a0a"/>
<circle cx="205.4" cy="1103.9" r="6.1" fill="#088a0a"/>
<circle cx="199.3" cy="1109.9" r="6.1" fill="#088a0a"/>
<circle cx="209.9" cy="1113.0" r="6.1" fill="#088a0a"/>
<circle cx="203.9" cy="1116.0" r="6.1" fill="#088a0a"/>
<circle cx="199.3" cy="1126.6" r="6.1" fill="#088a0a"/>
<circle cx="199.3" cy="1138.7" r="6.1" fill="#088a0a"/>
<circle cx="202.3" cy="1140.2" r="6.1" fill="#088a0a"/>
<circle cx="197.8" cy="1170.4" r="6.1" fill="#088a0a"/>
<circle cx="200.1" cy="1010.1" r="6.1" fill="#088a0a"/>
<circle cx="201.2" cy="1018.8" r="6.1" fill="#088a0a"/>
<circle cx="203.5" cy="1026.8" r="6.1" fill="#088a0a"/>
<circle cx="203.1" cy="1041.1" r="6.1" fill="#088a0a"/>
<circle cx="203.9" cy="1053.2" r="6.1" fill="#088a0a"/>
<circle cx="199.3" cy="1061.5" r="6.1" fill="#088a0a"/>
<circle cx="203.1" cy="1065.3" r="6.1" fill="#088a0a"/>
<circle cx="208.4" cy="1072.9" r="6.1" fill="#088a0a"/>
<circle cx="203.1" cy="1080.4" r="6.1" fill="#088a0a"/>
<circle cx="204.6" cy="1097.8" r="6.1" fill="#088a0a"/>
<circle cx="202.3" cy="1106.9" r="6.1" fill="#088a0a"/>
<circle cx="204.6" cy="1111.4" r="6.1" fill="#088a0a"/>
<circle cx="201.6" cy="1121.3" r="6.1" fill="#088a0a"/>
<circle cx="199.3" cy="1132.6" r="6.1" fill="#088a0a"/>
<circle cx="286.3" cy="1088.0" r="6.1" fill="#ff8c05"/>
<circle cx="282.5" cy="1096.3" r="6.1" fill="#ff8c05"/>
<circle cx="286.3" cy="1128.1" r="6.1" fill="#ff8c05"/>
<circle cx="288.5" cy="1134.1" r="6.1" fill="#ff8c05"/>
<circle cx="279.5" cy="1140.2" r="6.1" fill="#ff8c05"/>
<circle cx="276.4" cy="1144.7" r="6.1" fill="#ff8c05"/>
<circle cx="284.0" cy="1149.3" r="6.1" fill="#ff8c05"/>
<circle cx="279.5" cy="1158.3" r="6.1" fill="#ff8c05"/>
<circle cx="291.6" cy="1161.4" r="6.1" fill="#ff8c05"/>
<circle cx="281.0" cy="1167.4" r="6.1" fill="#ff8c05"/>
<circle cx="287.0" cy="1171.9" r="6.1" fill="#ff8c05"/>
<circle cx="284.0" cy="1179.5" r="6.1" fill="#ff8c05"/>
<circle cx="285.5" cy="1184.0" r="6.1" fill="#ff8c05"/>
<circle cx="284.4" cy="1092.2" r="6.1" fill="#ff8c05"/>
<circle cx="284.0" cy="1137.2" r="6.1" fill="#ff8c05"/>
<circle cx="280.2" cy="1147.0" r="6.1" fill="#ff8c05"/>
<circle cx="281.7" cy="1153.8" r="6.1" fill="#ff8c05"/>
<circle cx="285.5" cy="1159.8" r="6.1" fill="#ff8c05"/>
<circle cx="286.3" cy="1164.4" r="6.1" fill="#ff8c05"/>
<circle cx="284.0" cy="1169.7" r="6.1" fill="#ff8c05"/>
<circle cx="285.5" cy="1175.7" r="6.1" fill="#ff8c05"/>
<circle cx="374.6" cy="949.8" r="6.1" fill="#088a0a"/>
<circle cx="361.8" cy="970.2" r="6.1" fill="#088a0a"/>
<circle cx="374.6" cy="969.5" r="6.1" fill="#088a0a"/>
<circle cx="367.8" cy="974.8" r="6.1" fill="#088a0a"/>
<circle cx="360.2" cy="983.1" r="6.1" fill="#088a0a"/>
<circle cx="370.8" cy="980.8" r="6.1" fill="#088a0a"/>
<circle cx="366.3" cy="989.9" r="6.1" fill="#088a0a"/>
<circle cx="376.9" cy="994.4" r="6.1" fill="#088a0a"/>
<circle cx="364.8" cy="999.0" r="6.1" fill="#088a0a"/>
<circle cx="373.9" cy="1000.5" r="6.1" fill="#088a0a"/>
<circle cx="370.8" cy="1008.1" r="6.1" fill="#088a0a"/>
<circle cx="368.6" cy="1027.7" r="6.1" fill="#088a0a"/>
<circle cx="361.8" cy="1042.8" r="6.1" fill="#088a0a"/>
<circle cx="369.3" cy="1038.3" r="6.1" fill="#088a0a"/>
<circle cx="364.8" cy="1048.9" r="6.1" fill="#088a0a"/>
<circle cx="372.3" cy="1051.9" r="6.1" fill="#088a0a"/>
<circle cx="363.3" cy="1059.5" r="6.1" fill="#088a0a"/>
<circle cx="375.4" cy="1059.5" r="6.1" fill="#088a0a"/>
<circle cx="370.8" cy="1065.5" r="6.1" fill="#088a0a"/>
<circle cx="376.9" cy="1068.5" r="6.1" fill="#088a0a"/>
<circle cx="364.8" cy="1079.1" r="6.1" fill="#088a0a"/>
<circle cx="375.4" cy="1082.2" r="6.1" fill="#088a0a"/>
<circle cx="361.8" cy="1088.2" r="6.1" fill="#088a0a"/>
<circle cx="369.3" cy="1091.2" r="6.1" fill="#088a0a"/>
<circle cx="366.3" cy="1098.8" r="6.1" fill="#088a0a"/>
<circle cx="368.6" cy="1116.9" r="6.1" fill="#088a0a"/>
<circle cx="364.8" cy="1151.0" r="6.1" fill="#088a0a"/>
<circle cx="367.1" cy="1161.6" r="6.1" fill="#088a0a"/>
<circle cx="368.2" cy="969.9" r="6.1" fill="#088a0a"/>
<circle cx="364.8" cy="972.5" r="6.1" fill="#088a0a"/>
<circle cx="365.5" cy="982.0" r="6.1" fill="#088a0a"/>
<circle cx="363.3" cy="986.5" r="6.1" fill="#088a0a"/>
<circle cx="371.6" cy="992.2" r="6.1" fill="#088a0a"/>
<circle cx="370.8" cy="996.7" r="6.1" fill="#088a0a"/>
<circle cx="369.3" cy="999.7" r="6.1" fill="#088a0a"/>
<circle cx="372.3" cy="1004.3" r="6.1" fill="#088a0a"/>
<circle cx="368.9" cy="1033.0" r="6.1" fill="#088a0a"/>
<circle cx="365.5" cy="1040.6" r="6.1" fill="#088a0a"/>
<circle cx="368.6" cy="1050.4" r="6.1" fill="#088a0a"/>
<circle cx="367.8" cy="1055.7" r="6.1" fill="#088a0a"/>
<circle cx="369.3" cy="1059.5" r="6.1" fill="#088a0a"/>
<circle cx="373.1" cy="1062.5" r="6.1" fill="#088a0a"/>
<circle cx="370.1" cy="1080.6" r="6.1" fill="#088a0a"/>
<circle cx="368.6" cy="1085.2" r="6.1" fill="#088a0a"/>
<circle cx="365.5" cy="1089.7" r="6.1" fill="#088a0a"/>
<circle cx="367.8" cy="1095.0" r="6.1" fill="#088a0a"/>
<circle cx="365.9" cy="1156.3" r="6.1" fill="#088a0a"/>
<circle cx="457.0" cy="1040.6" r="6.1" fill="#ff8c05"/>
<circle cx="455.5" cy="1086.7" r="6.1" fill="#ff8c05"/>
<circle cx="446.4" cy="1097.3" r="6.1" fill="#ff8c05"/>
<circle cx="458.5" cy="1095.8" r="6.1" fill="#ff8c05"/>
<circle cx="444.9" cy="1106.4" r="6.1" fill="#ff8c05"/>
<circle cx="455.5" cy="1104.8" r="6.1" fill="#ff8c05"/>
<circle cx="449.5" cy="1112.4" r="6.1" fill="#ff8c05"/>
<circle cx="460.1" cy="1113.9" r="6.1" fill="#ff8c05"/>
<circle cx="446.4" cy="1121.5" r="6.1" fill="#ff8c05"/>
<circle cx="454.0" cy="1120.0" r="6.1" fill="#ff8c05"/>
<circle cx="457.0" cy="1136.6" r="6.1" fill="#ff8c05"/>
<circle cx="451.0" cy="1147.2" r="6.1" fill="#ff8c05"/>
<circle cx="455.5" cy="1142.6" r="6.1" fill="#ff8c05"/>
<circle cx="452.5" cy="1172.9" r="6.1" fill="#ff8c05"/>
<circle cx="460.1" cy="1175.9" r="6.1" fill="#ff8c05"/>
<circle cx="457.0" cy="1091.2" r="6.1" fill="#ff8c05"/>
<circle cx="452.5" cy="1096.5" r="6.1" fill="#ff8c05"/>
<circle cx="451.0" cy="1101.1" r="6.1" fill="#ff8c05"/>
<circle cx="450.2" cy="1105.6" r="6.1" fill="#ff8c05"/>
<circle cx="447.2" cy="1109.4" r="6.1" fill="#ff8c05"/>
<circle cx="454.8" cy="1113.2" r="6.1" fill="#ff8c05"/>
<circle cx="457.0" cy="1116.9" r="6.1" fill="#ff8c05"/>
<circle cx="450.2" cy="1120.7" r="6.1" fill="#ff8c05"/>
<circle cx="456.3" cy="1174.4" r="6.1" fill="#ff8c05"/>
<circle cx="747.8" cy="1022.1" r="6.1" fill="#088a0a"/>
<circle cx="746.2" cy="1029.3" r="6.1" fill="#088a0a"/>
<circle cx="761.4" cy="1038.1" r="6.1" fill="#088a0a"/>
<circle cx="756.6" cy="1044.5" r="6.1" fill="#088a0a"/>
<circle cx="754.2" cy="1048.6" r="6.1" fill="#088a0a"/>
<circle cx="748.6" cy="1059.8" r="6.1" fill="#088a0a"/>
<circle cx="761.4" cy="1058.2" r="6.1" fill="#088a0a"/>
<circle cx="759.8" cy="1063.0" r="6.1" fill="#088a0a"/>
<circle cx="758.2" cy="1077.5" r="6.1" fill="#088a0a"/>
<circle cx="761.4" cy="1082.3" r="6.1" fill="#088a0a"/>
<circle cx="753.4" cy="1085.5" r="6.1" fill="#088a0a"/>
<circle cx="750.2" cy="1093.6" r="6.1" fill="#088a0a"/>
<circle cx="748.6" cy="1109.6" r="6.1" fill="#088a0a"/>
<circle cx="759.8" cy="1112.8" r="6.1" fill="#088a0a"/>
<circle cx="758.2" cy="1125.7" r="6.1" fill="#088a0a"/>
<circle cx="753.4" cy="1135.3" r="6.1" fill="#088a0a"/>
<circle cx="745.3" cy="1141.8" r="6.1" fill="#088a0a"/>
<circle cx="758.2" cy="1140.2" r="6.1" fill="#088a0a"/>
<circle cx="755.0" cy="1145.0" r="6.1" fill="#088a0a"/>
<circle cx="750.2" cy="1157.8" r="6.1" fill="#088a0a"/>
<circle cx="761.4" cy="1164.3" r="6.1" fill="#088a0a"/>
<circle cx="748.6" cy="1170.7" r="6.1" fill="#088a0a"/>
<circle cx="756.6" cy="1201.2" r="6.1" fill="#088a0a"/>
<circle cx="747.0" cy="1025.7" r="6.1" fill="#088a0a"/>
<circle cx="759.0" cy="1041.3" r="6.1" fill="#088a0a"/>
<circle cx="757.8" cy="1053.4" r="6.1" fill="#088a0a"/>
<circle cx="755.0" cy="1059.0" r="6.1" fill="#088a0a"/>
<circle cx="754.2" cy="1061.4" r="6.1" fill="#088a0a"/>
<circle cx="759.0" cy="1070.3" r="6.1" fill="#088a0a"/>
<circle cx="757.4" cy="1083.9" r="6.1" fill="#088a0a"/>
<circle cx="751.8" cy="1089.5" r="6.1" fill="#088a0a"/>
<circle cx="754.2" cy="1111.2" r="6.1" fill="#088a0a"/>
<circle cx="759.0" cy="1119.3" r="6.1" fill="#088a0a"/>
<circle cx="755.8" cy="1130.5" r="6.1" fill="#088a0a"/>
<circle cx="751.8" cy="1141.0" r="6.1" fill="#088a0a"/>
<circle cx="750.2" cy="1143.4" r="6.1" fill="#088a0a"/>
<circle cx="752.6" cy="1151.4" r="6.1" fill="#088a0a"/>
<circle cx="755.8" cy="1161.0" r="6.1" fill="#088a0a"/>
<circle cx="755.0" cy="1167.5" r="6.1" fill="#088a0a"/>
<circle cx="836.9" cy="1026.1" r="6.1" fill="#ff8c05"/>
<circle cx="843.4" cy="1035.7" r="6.1" fill="#ff8c05"/>
<circle cx="837.7" cy="1083.9" r="6.1" fill="#ff8c05"/>
<circle cx="835.3" cy="1090.3" r="6.1" fill="#ff8c05"/>
<circle cx="843.4" cy="1103.2" r="6.1" fill="#ff8c05"/>
<circle cx="836.9" cy="1109.6" r="6.1" fill="#ff8c05"/>
<circle cx="835.3" cy="1117.7" r="6.1" fill="#ff8c05"/>
<circle cx="833.7" cy="1128.9" r="6.1" fill="#ff8c05"/>
<circle cx="838.5" cy="1127.3" r="6.1" fill="#ff8c05"/>
<circle cx="841.8" cy="1146.6" r="6.1" fill="#ff8c05"/>
<circle cx="845.0" cy="1154.6" r="6.1" fill="#ff8c05"/>
<circle cx="840.2" cy="1030.9" r="6.1" fill="#ff8c05"/>
<circle cx="840.2" cy="1106.4" r="6.1" fill="#ff8c05"/>
<circle cx="836.1" cy="1113.6" r="6.1" fill="#ff8c05"/>
<circle cx="836.9" cy="1122.5" r="6.1" fill="#ff8c05"/>
<circle cx="843.4" cy="1150.6" r="6.1" fill="#ff8c05"/>
<circle cx="918.9" cy="956.7" r="6.1" fill="#088a0a"/>
<circle cx="915.9" cy="980.5" r="6.1" fill="#088a0a"/>
<circle cx="924.0" cy="982.6" r="6.1" fill="#088a0a"/>
<circle cx="917.9" cy="991.8" r="6.1" fill="#088a0a"/>
<circle cx="925.1" cy="997.9" r="6.1" fill="#088a0a"/>
<circle cx="914.9" cy="1006.0" r="6.1" fill="#088a0a"/>
<circle cx="928.1" cy="1008.1" r="6.1" fill="#088a0a"/>
<circle cx="912.8" cy="1019.3" r="6.1" fill="#088a0a"/>
<circle cx="921.0" cy="1012.2" r="6.1" fill="#088a0a"/>
<circle cx="925.1" cy="1044.8" r="6.1" fill="#088a0a"/>
<circle cx="916.9" cy="1057.0" r="6.1" fill="#088a0a"/>
<circle cx="913.8" cy="1063.1" r="6.1" fill="#088a0a"/>
<circle cx="921.0" cy="1069.2" r="6.1" fill="#088a0a"/>
<circle cx="927.1" cy="1077.4" r="6.1" fill="#088a0a"/>
<circle cx="922.0" cy="1083.5" r="6.1" fill="#088a0a"/>
<circle cx="918.9" cy="1091.7" r="6.1" fill="#088a0a"/>
<circle cx="914.9" cy="1101.9" r="6.1" fill="#088a0a"/>
<circle cx="923.0" cy="1103.9" r="6.1" fill="#088a0a"/>
<circle cx="927.1" cy="1110.0" r="6.1" fill="#088a0a"/>
<circle cx="916.9" cy="1122.3" r="6.1" fill="#088a0a"/>
<circle cx="921.0" cy="1144.7" r="6.1" fill="#088a0a"/>
<circle cx="923.0" cy="1181.4" r="6.1" fill="#088a0a"/>
<circle cx="925.1" cy="1193.6" r="6.1" fill="#088a0a"/>
<circle cx="920.0" cy="981.6" r="6.1" fill="#088a0a"/>
<circle cx="921.0" cy="987.2" r="6.1" fill="#088a0a"/>
<circle cx="921.5" cy="994.8" r="6.1" fill="#088a0a"/>
<circle cx="920.0" cy="1002.0" r="6.1" fill="#088a0a"/>
<circle cx="921.5" cy="1007.1" r="6.1" fill="#088a0a"/>
<circle cx="924.5" cy="1010.1" r="6.1" fill="#088a0a"/>
<circle cx="916.9" cy="1015.7" r="6.1" fill="#088a0a"/>
<circle cx="921.0" cy="1050.9" r="6.1" fill="#088a0a"/>
<circle cx="917.4" cy="1066.2" r="6.1" fill="#088a0a"/>
<circle cx="924.0" cy="1073.3" r="6.1" fill="#088a0a"/>
<circle cx="924.5" cy="1080.5" r="6.1" fill="#088a0a"/>
<circle cx="920.5" cy="1087.6" r="6.1" fill="#088a0a"/>
<circle cx="916.9" cy="1096.8" r="6.1" fill="#088a0a"/>
<circle cx="918.9" cy="1102.9" r="6.1" fill="#088a0a"/>
<circle cx="925.1" cy="1107.0" r="6.1" fill="#088a0a"/>
<circle cx="924.0" cy="1187.5" r="6.1" fill="#088a0a"/>
<circle cx="1002.5" cy="960.2" r="6.1" fill="#ff8c05"/>
<circle cx="1004.6" cy="1025.4" r="6.1" fill="#ff8c05"/>
<circle cx="1010.7" cy="1038.7" r="6.1" fill="#ff8c05"/>
<circle cx="1006.6" cy="1046.8" r="6.1" fill="#ff8c05"/>
<circle cx="1000.5" cy="1055.0" r="6.1" fill="#ff8c05"/>
<circle cx="1003.6" cy="1063.1" r="6.1" fill="#ff8c05"/>
<circle cx="1005.6" cy="1071.3" r="6.1" fill="#ff8c05"/>
<circle cx="1006.6" cy="1097.8" r="6.1" fill="#ff8c05"/>
<circle cx="998.5" cy="1106.0" r="6.1" fill="#ff8c05"/>
<circle cx="993.4" cy="1114.1" r="6.1" fill="#ff8c05"/>
<circle cx="998.5" cy="1141.6" r="6.1" fill="#ff8c05"/>
<circle cx="1005.6" cy="1150.8" r="6.1" fill="#ff8c05"/>
<circle cx="1007.6" cy="1032.0" r="6.1" fill="#ff8c05"/>
<circle cx="1008.7" cy="1042.7" r="6.1" fill="#ff8c05"/>
<circle cx="1003.6" cy="1050.9" r="6.1" fill="#ff8c05"/>
<circle cx="1002.0" cy="1059.1" r="6.1" fill="#ff8c05"/>
<circle cx="1004.6" cy="1067.2" r="6.1" fill="#ff8c05"/>
<circle cx="1002.5" cy="1101.9" r="6.1" fill="#ff8c05"/>
<circle cx="995.9" cy="1110.0" r="6.1" fill="#ff8c05"/>
<circle cx="1002.0" cy="1146.2" r="6.1" fill="#ff8c05"/>
<circle cx="200.5" cy="1404.3" r="6.1" fill="#088a0a"/>
<circle cx="208.9" cy="1400.5" r="6.1" fill="#088a0a"/>
<circle cx="199.0" cy="1433.1" r="6.1" fill="#088a0a"/>
<circle cx="210.4" cy="1451.2" r="6.1" fill="#088a0a"/>
<circle cx="206.6" cy="1460.3" r="6.1" fill="#088a0a"/>
<circle cx="205.1" cy="1467.8" r="6.1" fill="#088a0a"/>
<circle cx="201.3" cy="1473.9" r="6.1" fill="#088a0a"/>
<circle cx="207.3" cy="1476.9" r="6.1" fill="#088a0a"/>
<circle cx="196.8" cy="1501.1" r="6.1" fill="#088a0a"/>
<circle cx="203.6" cy="1516.2" r="6.1" fill="#088a0a"/>
<circle cx="199.8" cy="1531.4" r="6.1" fill="#088a0a"/>
<circle cx="210.4" cy="1532.9" r="6.1" fill="#088a0a"/>
<circle cx="204.7" cy="1402.4" r="6.1" fill="#088a0a"/>
<circle cx="208.5" cy="1455.7" r="6.1" fill="#088a0a"/>
<circle cx="205.8" cy="1464.1" r="6.1" fill="#088a0a"/>
<circle cx="203.2" cy="1470.9" r="6.1" fill="#088a0a"/>
<circle cx="205.1" cy="1532.1" r="6.1" fill="#088a0a"/>
<circle cx="284.5" cy="1376.3" r="6.1" fill="#ff8c05"/>
<circle cx="283.7" cy="1396.8" r="6.1" fill="#ff8c05"/>
<circle cx="289.0" cy="1433.1" r="6.1" fill="#ff8c05"/>
<circle cx="292.8" cy="1467.1" r="6.1" fill="#ff8c05"/>
<circle cx="284.5" cy="1477.7" r="6.1" fill="#ff8c05"/>
<circle cx="293.5" cy="1486.0" r="6.1" fill="#ff8c05"/>
<circle cx="279.9" cy="1498.8" r="6.1" fill="#ff8c05"/>
<circle cx="281.4" cy="1516.2" r="6.1" fill="#ff8c05"/>
<circle cx="288.6" cy="1472.4" r="6.1" fill="#ff8c05"/>
<circle cx="289.0" cy="1481.8" r="6.1" fill="#ff8c05"/>
<circle cx="368.6" cy="1547.9" r="6.1" fill="#088a0a"/>
<circle cx="366.3" cy="1554.7" r="6.1" fill="#088a0a"/>
<circle cx="367.1" cy="1562.2" r="6.1" fill="#088a0a"/>
<circle cx="365.5" cy="1568.3" r="6.1" fill="#088a0a"/>
<circle cx="367.8" cy="1574.3" r="6.1" fill="#088a0a"/>
<circle cx="370.8" cy="1580.4" r="6.1" fill="#088a0a"/>
<circle cx="373.9" cy="1586.4" r="6.1" fill="#088a0a"/>
<circle cx="375.4" cy="1592.5" r="6.1" fill="#088a0a"/>
<circle cx="373.1" cy="1598.5" r="6.1" fill="#088a0a"/>
<circle cx="373.9" cy="1604.6" r="6.1" fill="#088a0a"/>
<circle cx="372.3" cy="1610.6" r="6.1" fill="#088a0a"/>
<circle cx="370.8" cy="1616.7" r="6.1" fill="#088a0a"/>
<circle cx="369.3" cy="1622.7" r="6.1" fill="#088a0a"/>
<circle cx="375.4" cy="1625.7" r="6.1" fill="#088a0a"/>
<circle cx="369.3" cy="1630.3" r="6.1" fill="#088a0a"/>
<circle cx="367.4" cy="1551.3" r="6.1" fill="#088a0a"/>
<circle cx="366.7" cy="1558.4" r="6.1" fill="#088a0a"/>
<circle cx="372.3" cy="1628.0" r="6.1" fill="#088a0a"/>
<circle cx="449.5" cy="1555.4" r="6.1" fill="#ff8c05"/>
<circle cx="454.0" cy="1569.8" r="6.1" fill="#ff8c05"/>
<circle cx="457.8" cy="1571.3" r="6.1" fill="#ff8c05"/>
<circle cx="455.5" cy="1578.9" r="6.1" fill="#ff8c05"/>
<circle cx="452.5" cy="1584.9" r="6.1" fill="#ff8c05"/>
<circle cx="449.5" cy="1592.5" r="6.1" fill="#ff8c05"/>
<circle cx="447.2" cy="1600.0" r="6.1" fill="#ff8c05"/>
<circle cx="445.7" cy="1604.6" r="6.1" fill="#ff8c05"/>
<circle cx="450.2" cy="1618.2" r="6.1" fill="#ff8c05"/>
<circle cx="451.0" cy="1625.7" r="6.1" fill="#ff8c05"/>
<circle cx="451.7" cy="1630.3" r="6.1" fill="#ff8c05"/>
<circle cx="452.5" cy="1645.4" r="6.1" fill="#ff8c05"/>
<circle cx="456.7" cy="1575.1" r="6.1" fill="#ff8c05"/>
<circle cx="451.0" cy="1588.7" r="6.1" fill="#ff8c05"/>
<circle cx="448.3" cy="1596.2" r="6.1" fill="#ff8c05"/>
<circle cx="448.0" cy="1611.4" r="6.1" fill="#ff8c05"/>
<circle cx="450.6" cy="1622.0" r="6.1" fill="#ff8c05"/>
<circle cx="750.2" cy="1426.1" r="6.1" fill="#088a0a"/>
<circle cx="759.3" cy="1445.0" r="6.1" fill="#088a0a"/>
<circle cx="761.6" cy="1471.5" r="6.1" fill="#088a0a"/>
<circle cx="756.3" cy="1501.0" r="6.1" fill="#088a0a"/>
<circle cx="754.8" cy="1513.1" r="6.1" fill="#088a0a"/>
<circle cx="747.2" cy="1534.3" r="6.1" fill="#088a0a"/>
<circle cx="756.3" cy="1538.8" r="6.1" fill="#088a0a"/>
<circle cx="751.8" cy="1547.9" r="6.1" fill="#088a0a"/>
<circle cx="754.8" cy="1550.1" r="6.1" fill="#088a0a"/>
<circle cx="757.8" cy="1566.0" r="6.1" fill="#088a0a"/>
<circle cx="748.7" cy="1572.1" r="6.1" fill="#088a0a"/>
<circle cx="750.2" cy="1578.1" r="6.1" fill="#088a0a"/>
<circle cx="755.5" cy="1507.0" r="6.1" fill="#088a0a"/>
<circle cx="751.8" cy="1536.5" r="6.1" fill="#088a0a"/>
<circle cx="754.0" cy="1543.3" r="6.1" fill="#088a0a"/>
<circle cx="753.3" cy="1569.0" r="6.1" fill="#088a0a"/>
<circle cx="828.9" cy="1390.6" r="6.1" fill="#ff8c05"/>
<circle cx="834.9" cy="1403.4" r="6.1" fill="#ff8c05"/>
<circle cx="842.5" cy="1439.7" r="6.1" fill="#ff8c05"/>
<circle cx="834.9" cy="1464.7" r="6.1" fill="#ff8c05"/>
<circle cx="832.7" cy="1470.7" r="6.1" fill="#ff8c05"/>
<circle cx="841.0" cy="1485.9" r="6.1" fill="#ff8c05"/>
<circle cx="834.9" cy="1491.9" r="6.1" fill="#ff8c05"/>
<circle cx="839.5" cy="1504.0" r="6.1" fill="#ff8c05"/>
<circle cx="830.4" cy="1510.1" r="6.1" fill="#ff8c05"/>
<circle cx="842.5" cy="1507.0" r="6.1" fill="#ff8c05"/>
<circle cx="831.9" cy="1522.2" r="6.1" fill="#ff8c05"/>
<circle cx="831.9" cy="1540.3" r="6.1" fill="#ff8c05"/>
<circle cx="841.0" cy="1543.3" r="6.1" fill="#ff8c05"/>
<circle cx="831.9" cy="1397.0" r="6.1" fill="#ff8c05"/>
<circle cx="838.0" cy="1488.9" r="6.1" fill="#ff8c05"/>
<circle cx="837.2" cy="1498.0" r="6.1" fill="#ff8c05"/>
<circle cx="836.4" cy="1508.5" r="6.1" fill="#ff8c05"/>
<circle cx="831.2" cy="1516.1" r="6.1" fill="#ff8c05"/>
<circle cx="836.4" cy="1541.8" r="6.1" fill="#ff8c05"/>
<circle cx="919.8" cy="1573.9" r="6.1" fill="#088a0a"/>
<circle cx="912.2" cy="1590.5" r="6.1" fill="#088a0a"/>
<circle cx="918.3" cy="1596.5" r="6.1" fill="#088a0a"/>
<circle cx="921.3" cy="1602.6" r="6.1" fill="#088a0a"/>
<circle cx="916.8" cy="1608.6" r="6.1" fill="#088a0a"/>
<circle cx="921.3" cy="1614.7" r="6.1" fill="#088a0a"/>
<circle cx="927.3" cy="1620.7" r="6.1" fill="#088a0a"/>
<circle cx="924.3" cy="1626.8" r="6.1" fill="#088a0a"/>
<circle cx="918.3" cy="1629.8" r="6.1" fill="#088a0a"/>
<circle cx="921.3" cy="1635.9" r="6.1" fill="#088a0a"/>
<circle cx="915.2" cy="1641.9" r="6.1" fill="#088a0a"/>
<circle cx="919.8" cy="1648.0" r="6.1" fill="#088a0a"/>
<circle cx="922.8" cy="1657.0" r="6.1" fill="#088a0a"/>
<circle cx="912.2" cy="1644.9" r="6.1" fill="#088a0a"/>
<circle cx="925.8" cy="1632.8" r="6.1" fill="#088a0a"/>
<circle cx="915.2" cy="1593.5" r="6.1" fill="#088a0a"/>
<circle cx="919.0" cy="1605.6" r="6.1" fill="#088a0a"/>
<circle cx="919.0" cy="1611.7" r="6.1" fill="#088a0a"/>
<circle cx="924.3" cy="1617.7" r="6.1" fill="#088a0a"/>
<circle cx="922.1" cy="1631.3" r="6.1" fill="#088a0a"/>
<circle cx="918.3" cy="1638.9" r="6.1" fill="#088a0a"/>
<circle cx="916.0" cy="1646.4" r="6.1" fill="#088a0a"/>
<circle cx="921.3" cy="1652.5" r="6.1" fill="#088a0a"/>
<circle cx="995.4" cy="1538.3" r="6.1" fill="#ff8c05"/>
<circle cx="1004.5" cy="1562.5" r="6.1" fill="#ff8c05"/>
<circle cx="1012.0" cy="1562.5" r="6.1" fill="#ff8c05"/>
<circle cx="999.9" cy="1569.3" r="6.1" fill="#ff8c05"/>
<circle cx="1006.0" cy="1575.4" r="6.1" fill="#ff8c05"/>
<circle cx="1001.4" cy="1581.4" r="6.1" fill="#ff8c05"/>
<circle cx="1007.5" cy="1587.5" r="6.1" fill="#ff8c05"/>
<circle cx="1003.0" cy="1592.0" r="6.1" fill="#ff8c05"/>
<circle cx="1010.5" cy="1596.5" r="6.1" fill="#ff8c05"/>
<circle cx="1004.5" cy="1601.1" r="6.1" fill="#ff8c05"/>
<circle cx="1007.5" cy="1608.6" r="6.1" fill="#ff8c05"/>
<circle cx="1006.0" cy="1614.7" r="6.1" fill="#ff8c05"/>
<circle cx="1008.3" cy="1562.5" r="6.1" fill="#ff8c05"/>
<circle cx="1006.0" cy="1565.9" r="6.1" fill="#ff8c05"/>
<circle cx="1003.0" cy="1572.3" r="6.1" fill="#ff8c05"/>
<circle cx="1003.7" cy="1578.4" r="6.1" fill="#ff8c05"/>
<circle cx="1004.5" cy="1584.4" r="6.1" fill="#ff8c05"/>
<circle cx="1006.7" cy="1594.3" r="6.1" fill="#ff8c05"/>
<circle cx="1007.5" cy="1598.8" r="6.1" fill="#ff8c05"/>
<circle cx="1006.0" cy="1604.9" r="6.1" fill="#ff8c05"/>
<text transform="translate(23.2,660) rotate(-90)" font-size="28" text-anchor="middle" fill="#111" textLength="187.5" lengthAdjust="spacingAndGlyphs">HSA transgene</text>
<text transform="translate(55.8,661.2) rotate(-90)" font-size="28" text-anchor="middle" fill="#111" textLength="134.1" lengthAdjust="spacingAndGlyphs">expression</text>
<text transform="translate(640.4,661) rotate(-90)" font-size="28" text-anchor="middle" fill="#111" textLength="114.3" lengthAdjust="spacingAndGlyphs">Myotonia</text>
<text transform="translate(53.1,1076) rotate(-90)" font-size="28" text-anchor="middle" fill="#111" textLength="129.7" lengthAdjust="spacingAndGlyphs">Weight (g)</text>
<text transform="translate(584.8,1076) rotate(-90)" font-size="28" text-anchor="middle" fill="#111" textLength="202.3" lengthAdjust="spacingAndGlyphs">Weight increase</text>
<text transform="translate(618,1076) rotate(-90)" font-size="28" text-anchor="middle" fill="#111" textLength="167.2" lengthAdjust="spacingAndGlyphs">(fold change)</text>
<text transform="translate(53.3,1497.8) rotate(-90)" font-size="28" text-anchor="middle" fill="#111" textLength="266.1" lengthAdjust="spacingAndGlyphs">Forelimb strength (s)</text>
<text transform="translate(607.1,1497) rotate(-90)" font-size="28" text-anchor="middle" fill="#111" textLength="110.0" lengthAdjust="spacingAndGlyphs">Forelimb</text>
<text transform="translate(640.4,1497.9) rotate(-90)" font-size="28" text-anchor="middle" fill="#111" textLength="204.5" lengthAdjust="spacingAndGlyphs">strength/weight</text>
<text x="0" y="29.7" font-size="39" font-weight="bold" fill="#000" stroke="#000" stroke-width="1.2" textLength="21.0" lengthAdjust="spacingAndGlyphs">a</text>
<text x="562.3" y="29.5" font-size="39" font-weight="bold" fill="#000" stroke="#000" stroke-width="1.2" textLength="26.2" lengthAdjust="spacingAndGlyphs">b</text>
<text x="0" y="485.2" font-size="39" font-weight="bold" fill="#000" stroke="#000" stroke-width="1.2" textLength="23.9" lengthAdjust="spacingAndGlyphs">c</text>
<text x="562.3" y="485.5" font-size="39" font-weight="bold" fill="#000" stroke="#000" stroke-width="1.2" textLength="26.2" lengthAdjust="spacingAndGlyphs">d</text>
<text x="0" y="909.5" font-size="39" font-weight="bold" fill="#000" stroke="#000" stroke-width="1.2" textLength="23.9" lengthAdjust="spacingAndGlyphs">e</text>
<text x="561.8" y="909" font-size="39" font-weight="bold" fill="#000" stroke="#000" stroke-width="1.2" textLength="14.3" lengthAdjust="spacingAndGlyphs">f</text>
<text x="0" y="1324.8" font-size="39" font-weight="bold" fill="#000" stroke="#000" stroke-width="1.2" textLength="26.2" lengthAdjust="spacingAndGlyphs">g</text>
<text x="562.3" y="1324.7" font-size="39" font-weight="bold" fill="#000" stroke="#000" stroke-width="1.2" textLength="26.2" lengthAdjust="spacingAndGlyphs">h</text>
<g stroke="#088a0a" stroke-width="1.75" fill="none"><circle cx="191.3" cy="1707.9" r="5.9"/><path d="M195.1,1703.4 L201.9,1695.3 M194.3,1695.5 L201.9,1695.3 L202.2,1702.7"/></g>
<g stroke="#088a0a" stroke-width="1.75" fill="none"><circle cx="366.6" cy="1707.9" r="5.9"/><path d="M370.4,1703.4 L377.2,1695.3 M369.6,1695.5 L377.2,1695.3 L377.5,1702.7"/></g>
<g stroke="#ff8c05" stroke-width="1.75" fill="none"><circle cx="276.4" cy="1702.1" r="5.8"/><path d="M276.4,1707.9 V1715.0 M270.8,1711.1 H282.0"/></g>
<g stroke="#ff8c05" stroke-width="1.75" fill="none"><circle cx="451.9" cy="1702.1" r="5.8"/><path d="M451.9,1707.9 V1715.0 M446.3,1711.1 H457.5"/></g>
<g stroke="#088a0a" stroke-width="1.75" fill="none"><circle cx="753.4" cy="1707.9" r="5.9"/><path d="M757.2,1703.4 L764.0,1695.3 M756.4,1695.5 L764.0,1695.3 L764.3,1702.7"/></g>
<g stroke="#088a0a" stroke-width="1.75" fill="none"><circle cx="917.3" cy="1707.9" r="5.9"/><path d="M921.1,1703.4 L927.9,1695.3 M920.3,1695.5 L927.9,1695.3 L928.2,1702.7"/></g>
<g stroke="#ff8c05" stroke-width="1.75" fill="none"><circle cx="838.3" cy="1702.1" r="5.8"/><path d="M838.3,1707.9 V1715.0 M832.7,1711.1 H843.9"/></g>
<g stroke="#ff8c05" stroke-width="1.75" fill="none"><circle cx="1002.1" cy="1702.1" r="5.8"/><path d="M1002.1,1707.9 V1715.0 M996.5,1711.1 H1007.7"/></g>
<line x1="172.5" y1="1728.5" x2="297.2" y2="1728.5" stroke="#111" stroke-width="1.5" />
<line x1="347.5" y1="1728.5" x2="471.9" y2="1728.5" stroke="#111" stroke-width="1.5" />
<line x1="733.0" y1="1728.4" x2="859.0" y2="1728.4" stroke="#111" stroke-width="1.5" />
<line x1="898.2" y1="1728.4" x2="1023.2" y2="1728.4" stroke="#111" stroke-width="1.5" />
<text x="216.2" y="1764.5" font-size="27.5" text-anchor="start" fill="#111" font-weight="normal" textLength="39" lengthAdjust="spacingAndGlyphs" >WT</text>
<text x="372.3" y="1764.5" font-size="27.5" text-anchor="start" fill="#111" font-weight="normal" textLength="52.5" lengthAdjust="spacingAndGlyphs" >HSA</text>
<text x="426.5" y="1753.0" font-size="17.5" text-anchor="start" fill="#111" font-weight="normal" textLength="20.5" lengthAdjust="spacingAndGlyphs" >LR</text>
<text x="777.4" y="1764.5" font-size="27.5" text-anchor="start" fill="#111" font-weight="normal" textLength="38.5" lengthAdjust="spacingAndGlyphs" >WT</text>
<text x="923.2" y="1764.5" font-size="27.5" text-anchor="start" fill="#111" font-weight="normal" textLength="52.5" lengthAdjust="spacingAndGlyphs" >HSA</text>
<text x="978.0" y="1753.0" font-size="17.5" text-anchor="start" fill="#111" font-weight="normal" textLength="20" lengthAdjust="spacingAndGlyphs" >LR</text>
</svg></body></html>
